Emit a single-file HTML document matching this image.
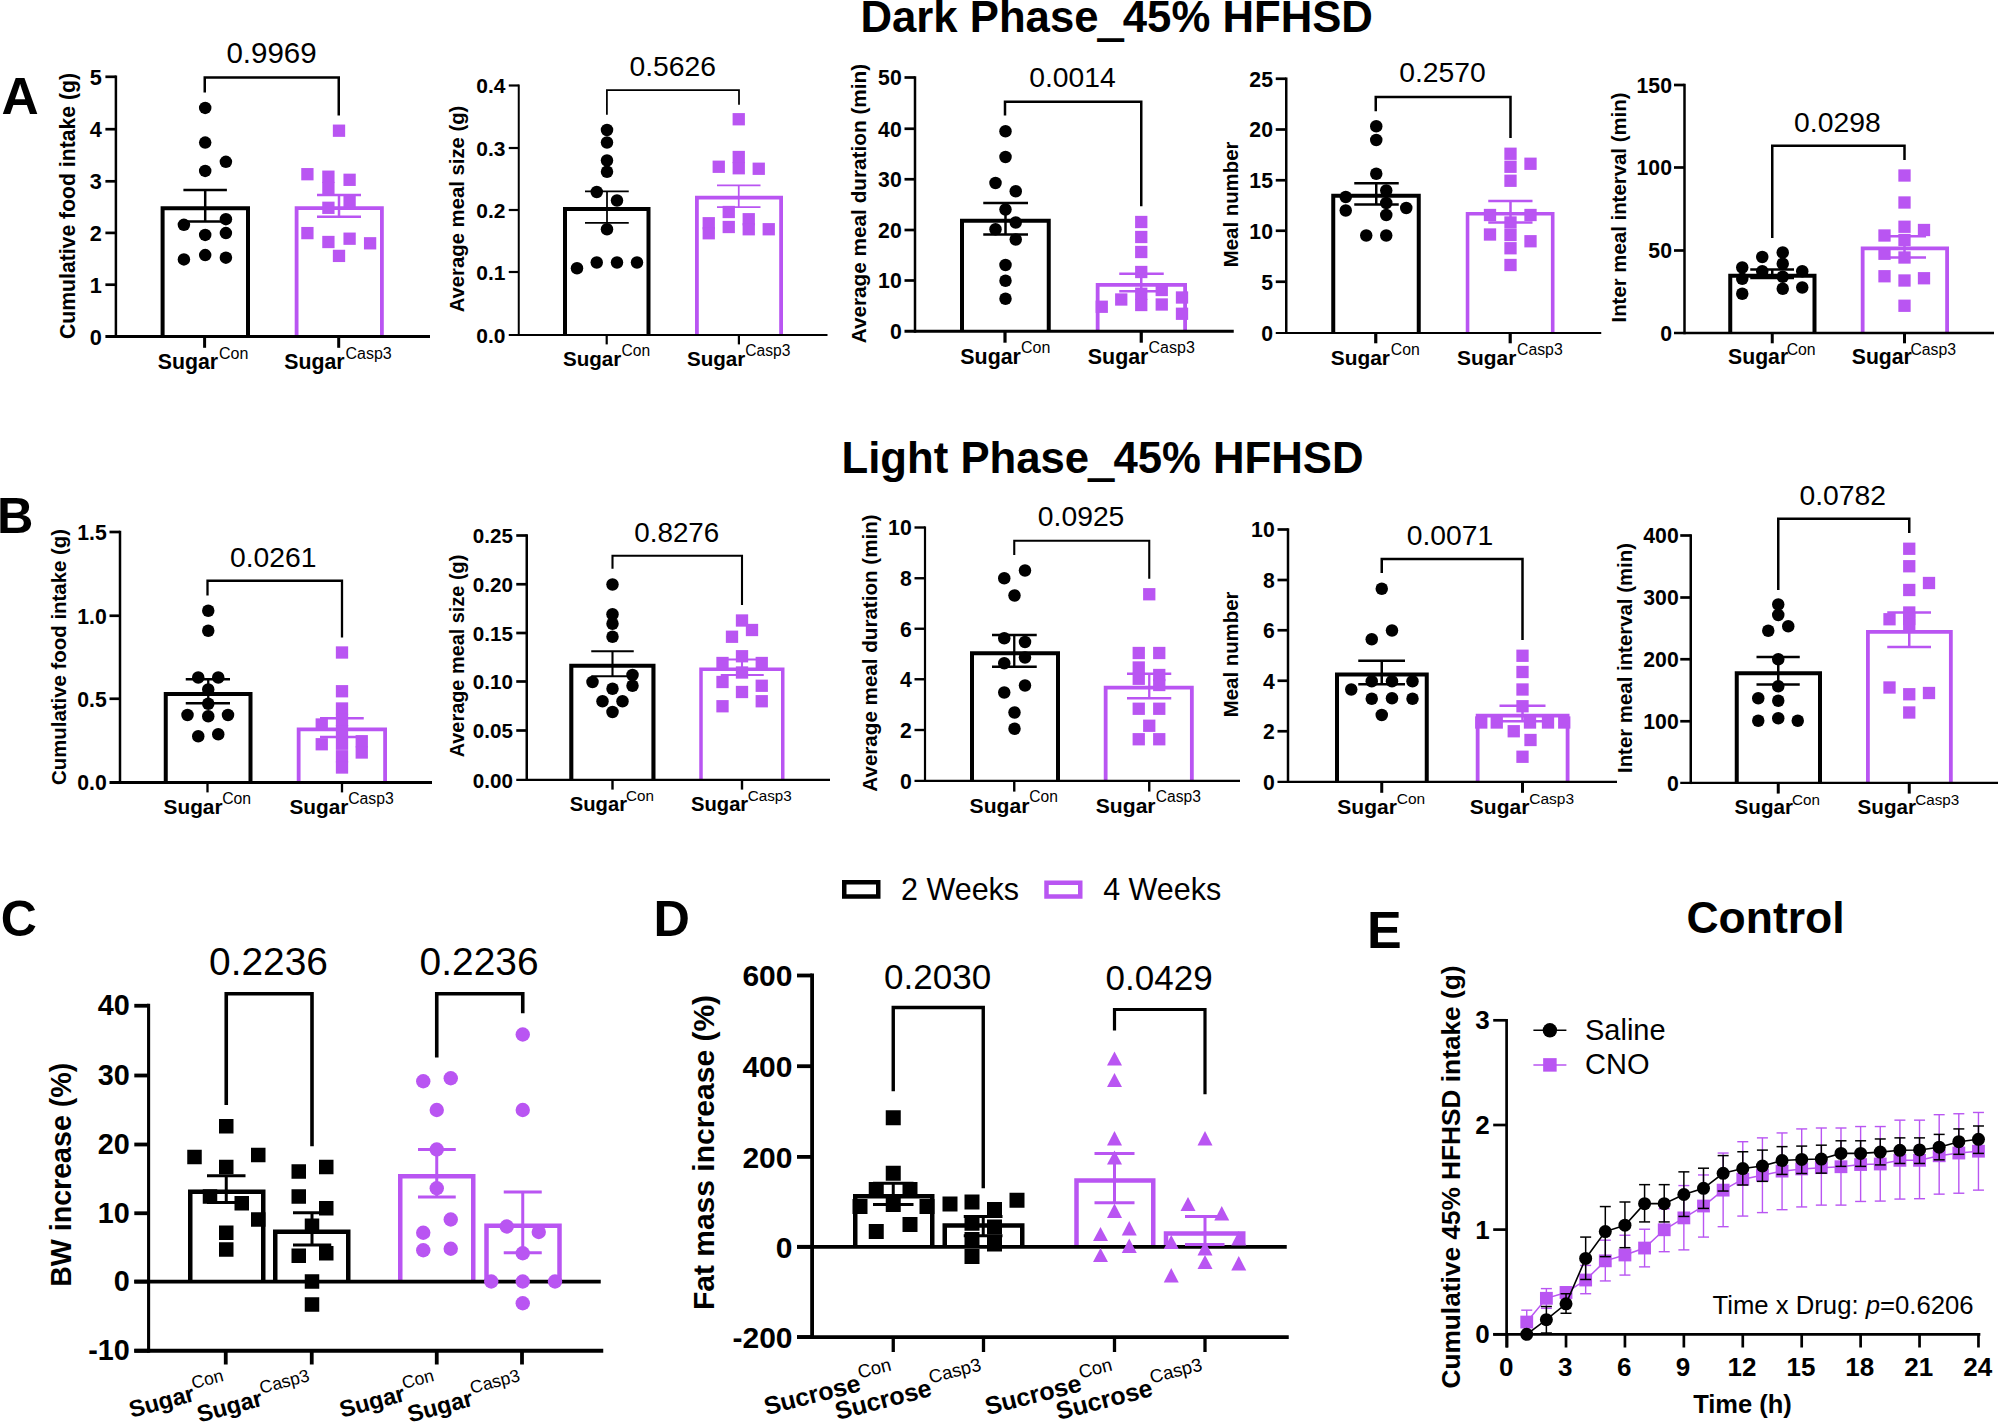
<!DOCTYPE html>
<html><head><meta charset="utf-8"><title>Figure</title>
<style>
html,body{margin:0;padding:0;background:#fff;}
svg{display:block;font-family:"Liberation Sans",Arial,Helvetica,sans-serif;}
</style></head>
<body>
<svg width="1998" height="1423" viewBox="0 0 1998 1423">
<rect x="0" y="0" width="1998" height="1423" fill="#ffffff"/>
<path d="M162.6 336.6V208.3H248V336.6" stroke="#000000" stroke-width="4" fill="none" stroke-linejoin="miter"/>
<path d="M296.6 336.6V208.2H381.9V336.6" stroke="#b955f2" stroke-width="3.8" fill="none" stroke-linejoin="miter"/>
<line x1="205.2" y1="190.1" x2="205.2" y2="221.5" stroke="#000000" stroke-width="2.5" stroke-linecap="butt"/>
<line x1="183.4" y1="190.1" x2="226.9" y2="190.1" stroke="#000000" stroke-width="2.5" stroke-linecap="butt"/>
<line x1="183.4" y1="221.5" x2="226.9" y2="221.5" stroke="#000000" stroke-width="2.5" stroke-linecap="butt"/>
<line x1="339" y1="194.9" x2="339" y2="216.7" stroke="#b955f2" stroke-width="2.5" stroke-linecap="butt"/>
<line x1="317" y1="194.9" x2="361" y2="194.9" stroke="#b955f2" stroke-width="2.5" stroke-linecap="butt"/>
<line x1="317" y1="216.7" x2="361" y2="216.7" stroke="#b955f2" stroke-width="2.5" stroke-linecap="butt"/>
<circle cx="205.2" cy="107.9" r="6.25" fill="#000000"/>
<circle cx="205.2" cy="142.6" r="6.25" fill="#000000"/>
<circle cx="225.9" cy="161.8" r="6.25" fill="#000000"/>
<circle cx="205.2" cy="170.9" r="6.25" fill="#000000"/>
<circle cx="183.9" cy="224.8" r="6.25" fill="#000000"/>
<circle cx="225.9" cy="219.2" r="6.25" fill="#000000"/>
<circle cx="205.2" cy="234.9" r="6.25" fill="#000000"/>
<circle cx="225.9" cy="233.1" r="6.25" fill="#000000"/>
<circle cx="183.9" cy="259.4" r="6.25" fill="#000000"/>
<circle cx="205.2" cy="255.1" r="6.25" fill="#000000"/>
<circle cx="225.9" cy="257.7" r="6.25" fill="#000000"/>
<rect x="332.85" y="124.55" width="12.3" height="12.3" fill="#b955f2"/>
<rect x="301.25" y="168.05" width="12.3" height="12.3" fill="#b955f2"/>
<rect x="322.25" y="170.55" width="12.3" height="12.3" fill="#b955f2"/>
<rect x="322.25" y="181.95" width="12.3" height="12.3" fill="#b955f2"/>
<rect x="343.45" y="173.65" width="12.3" height="12.3" fill="#b955f2"/>
<rect x="343.45" y="195.15" width="12.3" height="12.3" fill="#b955f2"/>
<rect x="322.25" y="201.65" width="12.3" height="12.3" fill="#b955f2"/>
<rect x="301.25" y="226.95" width="12.3" height="12.3" fill="#b955f2"/>
<rect x="322.25" y="235.85" width="12.3" height="12.3" fill="#b955f2"/>
<rect x="343.45" y="232.55" width="12.3" height="12.3" fill="#b955f2"/>
<rect x="363.95" y="237.15" width="12.3" height="12.3" fill="#b955f2"/>
<rect x="332.85" y="249.75" width="12.3" height="12.3" fill="#b955f2"/>
<line x1="115.9" y1="75.55" x2="115.9" y2="338.1" stroke="#000000" stroke-width="2.5" stroke-linecap="butt"/>
<line x1="105.4" y1="336.6" x2="430" y2="336.6" stroke="#000000" stroke-width="3" stroke-linecap="butt"/>
<line x1="105.4" y1="76.8" x2="115.9" y2="76.8" stroke="#000000" stroke-width="2.7" stroke-linecap="butt"/>
<text x="101.7" y="84.8" text-anchor="end" font-size="21.7" font-weight="bold" fill="#000000">5</text>
<line x1="105.4" y1="129.2" x2="115.9" y2="129.2" stroke="#000000" stroke-width="2.7" stroke-linecap="butt"/>
<text x="101.7" y="137.19" text-anchor="end" font-size="21.7" font-weight="bold" fill="#000000">4</text>
<line x1="105.4" y1="181.3" x2="115.9" y2="181.3" stroke="#000000" stroke-width="2.7" stroke-linecap="butt"/>
<text x="101.7" y="189.3" text-anchor="end" font-size="21.7" font-weight="bold" fill="#000000">3</text>
<line x1="105.4" y1="232.9" x2="115.9" y2="232.9" stroke="#000000" stroke-width="2.7" stroke-linecap="butt"/>
<text x="101.7" y="240.9" text-anchor="end" font-size="21.7" font-weight="bold" fill="#000000">2</text>
<line x1="105.4" y1="284.7" x2="115.9" y2="284.7" stroke="#000000" stroke-width="2.7" stroke-linecap="butt"/>
<text x="101.7" y="292.69" text-anchor="end" font-size="21.7" font-weight="bold" fill="#000000">1</text>
<text x="101.7" y="344.6" text-anchor="end" font-size="21.7" font-weight="bold" fill="#000000">0</text>
<line x1="204.6" y1="336.6" x2="204.6" y2="347.8" stroke="#000000" stroke-width="3" stroke-linecap="butt"/>
<line x1="338.7" y1="336.6" x2="338.7" y2="347.8" stroke="#000000" stroke-width="3" stroke-linecap="butt"/>
<path d="M204.75 92.5V77.5H338.75V115.6" stroke="#000000" stroke-width="2.5" fill="none" stroke-linejoin="miter"/>
<text x="271.5" y="62.5" text-anchor="middle" font-size="29.5" fill="#000000">0.9969</text>
<text x="157.8" y="369" text-anchor="start" font-size="21.3" font-weight="bold" fill="#000000">Sugar</text>
<text x="219" y="359.4" text-anchor="start" font-size="16" fill="#000000">Con</text>
<text x="284.3" y="369" text-anchor="start" font-size="21.3" font-weight="bold" fill="#000000">Sugar</text>
<text x="345.5" y="359.4" text-anchor="start" font-size="16" fill="#000000">Casp3</text>
<text transform="translate(75.4,206) rotate(-90)" text-anchor="middle" font-size="21.2" font-weight="bold" fill="#000000">Cumulative food intake (g)</text>
<path d="M565 334.9V209H648.5V334.9" stroke="#000000" stroke-width="4" fill="none" stroke-linejoin="miter"/>
<path d="M696.9 334.9V197.65H781.1V334.9" stroke="#b955f2" stroke-width="3.8" fill="none" stroke-linejoin="miter"/>
<line x1="607" y1="191.25" x2="607" y2="222.75" stroke="#000000" stroke-width="1.75" stroke-linecap="butt"/>
<line x1="585" y1="191.25" x2="628.75" y2="191.25" stroke="#000000" stroke-width="1.75" stroke-linecap="butt"/>
<line x1="585" y1="222.75" x2="628.75" y2="222.75" stroke="#000000" stroke-width="1.75" stroke-linecap="butt"/>
<line x1="738.75" y1="185.25" x2="738.75" y2="207" stroke="#b955f2" stroke-width="1.75" stroke-linecap="butt"/>
<line x1="717" y1="185.25" x2="760.5" y2="185.25" stroke="#b955f2" stroke-width="1.75" stroke-linecap="butt"/>
<line x1="717" y1="207" x2="760.5" y2="207" stroke="#b955f2" stroke-width="1.75" stroke-linecap="butt"/>
<circle cx="607" cy="130" r="6.25" fill="#000000"/>
<circle cx="607" cy="142.5" r="6.25" fill="#000000"/>
<circle cx="607" cy="160.5" r="6.25" fill="#000000"/>
<circle cx="607" cy="171.75" r="6.25" fill="#000000"/>
<circle cx="596.75" cy="192" r="6.25" fill="#000000"/>
<circle cx="617" cy="200.5" r="6.25" fill="#000000"/>
<circle cx="607" cy="229.25" r="6.25" fill="#000000"/>
<circle cx="577" cy="268.25" r="6.25" fill="#000000"/>
<circle cx="596.75" cy="262.5" r="6.25" fill="#000000"/>
<circle cx="617" cy="262.5" r="6.25" fill="#000000"/>
<circle cx="637" cy="262.5" r="6.25" fill="#000000"/>
<rect x="732.6" y="113.1" width="12.3" height="12.3" fill="#b955f2"/>
<rect x="712.6" y="160.6" width="12.3" height="12.3" fill="#b955f2"/>
<rect x="732.6" y="150.85" width="12.3" height="12.3" fill="#b955f2"/>
<rect x="732.6" y="162.1" width="12.3" height="12.3" fill="#b955f2"/>
<rect x="752.6" y="162.6" width="12.3" height="12.3" fill="#b955f2"/>
<rect x="722.6" y="205.85" width="12.3" height="12.3" fill="#b955f2"/>
<rect x="742.6" y="213.1" width="12.3" height="12.3" fill="#b955f2"/>
<rect x="742.6" y="223.1" width="12.3" height="12.3" fill="#b955f2"/>
<rect x="702.6" y="217.1" width="12.3" height="12.3" fill="#b955f2"/>
<rect x="702.6" y="227.1" width="12.3" height="12.3" fill="#b955f2"/>
<rect x="722.6" y="220.85" width="12.3" height="12.3" fill="#b955f2"/>
<rect x="762.6" y="223.1" width="12.3" height="12.3" fill="#b955f2"/>
<line x1="518.75" y1="84.5" x2="518.75" y2="335.9" stroke="#000000" stroke-width="2" stroke-linecap="butt"/>
<line x1="508.75" y1="334.9" x2="827.5" y2="334.9" stroke="#000000" stroke-width="2" stroke-linecap="butt"/>
<line x1="508.75" y1="85.5" x2="518.75" y2="85.5" stroke="#000000" stroke-width="2.2" stroke-linecap="butt"/>
<text x="505.45" y="93.25" text-anchor="end" font-size="21" font-weight="bold" fill="#000000">0.4</text>
<line x1="508.75" y1="148" x2="518.75" y2="148" stroke="#000000" stroke-width="2.2" stroke-linecap="butt"/>
<text x="505.45" y="155.75" text-anchor="end" font-size="21" font-weight="bold" fill="#000000">0.3</text>
<line x1="508.75" y1="210" x2="518.75" y2="210" stroke="#000000" stroke-width="2.2" stroke-linecap="butt"/>
<text x="505.45" y="217.75" text-anchor="end" font-size="21" font-weight="bold" fill="#000000">0.2</text>
<line x1="508.75" y1="272" x2="518.75" y2="272" stroke="#000000" stroke-width="2.2" stroke-linecap="butt"/>
<text x="505.45" y="279.75" text-anchor="end" font-size="21" font-weight="bold" fill="#000000">0.1</text>
<text x="505.45" y="342.65" text-anchor="end" font-size="21" font-weight="bold" fill="#000000">0.0</text>
<line x1="606.7" y1="334.9" x2="606.7" y2="344.4" stroke="#000000" stroke-width="2.2" stroke-linecap="butt"/>
<line x1="738.9" y1="334.9" x2="738.9" y2="344.4" stroke="#000000" stroke-width="2.2" stroke-linecap="butt"/>
<path d="M606.9 114.75V90H739V104.75" stroke="#000000" stroke-width="1.75" fill="none" stroke-linejoin="miter"/>
<text x="672.8" y="75.7" text-anchor="middle" font-size="28.3" fill="#000000">0.5626</text>
<text x="562.9" y="366.4" text-anchor="start" font-size="20.6" font-weight="bold" fill="#000000">Sugar</text>
<text x="621.5" y="355.9" text-anchor="start" font-size="15.6" fill="#000000">Con</text>
<text x="686.9" y="366.4" text-anchor="start" font-size="20.6" font-weight="bold" fill="#000000">Sugar</text>
<text x="745.25" y="355.9" text-anchor="start" font-size="15.6" fill="#000000">Casp3</text>
<text transform="translate(464,209) rotate(-90)" text-anchor="middle" font-size="20.3" font-weight="bold" fill="#000000">Average meal size (g)</text>
<path d="M962 331.25V220.75H1048.75V331.25" stroke="#000000" stroke-width="4" fill="none" stroke-linejoin="miter"/>
<path d="M1097.65 331.25V284.9H1185.1V331.25" stroke="#b955f2" stroke-width="3.8" fill="none" stroke-linejoin="miter"/>
<line x1="1005.5" y1="203" x2="1005.5" y2="234.5" stroke="#000000" stroke-width="2.5" stroke-linecap="butt"/>
<line x1="983.25" y1="203" x2="1028" y2="203" stroke="#000000" stroke-width="2.5" stroke-linecap="butt"/>
<line x1="983.25" y1="234.5" x2="1028" y2="234.5" stroke="#000000" stroke-width="2.5" stroke-linecap="butt"/>
<line x1="1141.25" y1="273.75" x2="1141.25" y2="291.25" stroke="#b955f2" stroke-width="2.5" stroke-linecap="butt"/>
<line x1="1119.25" y1="273.75" x2="1163.75" y2="273.75" stroke="#b955f2" stroke-width="2.5" stroke-linecap="butt"/>
<line x1="1119.25" y1="291.25" x2="1163.75" y2="291.25" stroke="#b955f2" stroke-width="2.5" stroke-linecap="butt"/>
<circle cx="1005.5" cy="131.25" r="6.25" fill="#000000"/>
<circle cx="1005.5" cy="157" r="6.25" fill="#000000"/>
<circle cx="995.5" cy="183" r="6.25" fill="#000000"/>
<circle cx="1015.75" cy="191.25" r="6.25" fill="#000000"/>
<circle cx="1005.5" cy="209.5" r="6.25" fill="#000000"/>
<circle cx="1015.75" cy="222.5" r="6.25" fill="#000000"/>
<circle cx="995.5" cy="229.25" r="6.25" fill="#000000"/>
<circle cx="1015.75" cy="239.5" r="6.25" fill="#000000"/>
<circle cx="1005.5" cy="265" r="6.25" fill="#000000"/>
<circle cx="1005.5" cy="280.75" r="6.25" fill="#000000"/>
<circle cx="1005.5" cy="298.75" r="6.25" fill="#000000"/>
<rect x="1135.1" y="215.85" width="12.3" height="12.3" fill="#b955f2"/>
<rect x="1135.1" y="230.85" width="12.3" height="12.3" fill="#b955f2"/>
<rect x="1135.1" y="245.85" width="12.3" height="12.3" fill="#b955f2"/>
<rect x="1135.1" y="265.85" width="12.3" height="12.3" fill="#b955f2"/>
<rect x="1135.1" y="287.6" width="12.3" height="12.3" fill="#b955f2"/>
<rect x="1135.1" y="298.85" width="12.3" height="12.3" fill="#b955f2"/>
<rect x="1155.6" y="283.85" width="12.3" height="12.3" fill="#b955f2"/>
<rect x="1115.1" y="293.35" width="12.3" height="12.3" fill="#b955f2"/>
<rect x="1155.6" y="298.35" width="12.3" height="12.3" fill="#b955f2"/>
<rect x="1175.85" y="291.35" width="12.3" height="12.3" fill="#b955f2"/>
<rect x="1095.6" y="300.6" width="12.3" height="12.3" fill="#b955f2"/>
<rect x="1175.85" y="307.6" width="12.3" height="12.3" fill="#b955f2"/>
<line x1="915" y1="76.25" x2="915" y2="332.75" stroke="#000000" stroke-width="2.5" stroke-linecap="butt"/>
<line x1="904.5" y1="331.25" x2="1233.75" y2="331.25" stroke="#000000" stroke-width="3" stroke-linecap="butt"/>
<line x1="904.5" y1="77.5" x2="915" y2="77.5" stroke="#000000" stroke-width="2.7" stroke-linecap="butt"/>
<text x="901.7" y="85.32" text-anchor="end" font-size="21.2" font-weight="bold" fill="#000000">50</text>
<line x1="904.5" y1="128.75" x2="915" y2="128.75" stroke="#000000" stroke-width="2.7" stroke-linecap="butt"/>
<text x="901.7" y="136.57" text-anchor="end" font-size="21.2" font-weight="bold" fill="#000000">40</text>
<line x1="904.5" y1="179.25" x2="915" y2="179.25" stroke="#000000" stroke-width="2.7" stroke-linecap="butt"/>
<text x="901.7" y="187.07" text-anchor="end" font-size="21.2" font-weight="bold" fill="#000000">30</text>
<line x1="904.5" y1="230" x2="915" y2="230" stroke="#000000" stroke-width="2.7" stroke-linecap="butt"/>
<text x="901.7" y="237.82" text-anchor="end" font-size="21.2" font-weight="bold" fill="#000000">20</text>
<line x1="904.5" y1="280.5" x2="915" y2="280.5" stroke="#000000" stroke-width="2.7" stroke-linecap="butt"/>
<text x="901.7" y="288.32" text-anchor="end" font-size="21.2" font-weight="bold" fill="#000000">10</text>
<text x="901.7" y="339.07" text-anchor="end" font-size="21.2" font-weight="bold" fill="#000000">0</text>
<line x1="1005" y1="331.25" x2="1005" y2="342.7" stroke="#000000" stroke-width="3.2" stroke-linecap="butt"/>
<line x1="1141.25" y1="331.25" x2="1141.25" y2="342.7" stroke="#000000" stroke-width="3.2" stroke-linecap="butt"/>
<path d="M1005 115.5V101.75H1141.25V206.25" stroke="#000000" stroke-width="2.5" fill="none" stroke-linejoin="miter"/>
<text x="1072.5" y="86.5" text-anchor="middle" font-size="28.3" fill="#000000">0.0014</text>
<text x="960.3" y="363.75" text-anchor="start" font-size="21.4" font-weight="bold" fill="#000000">Sugar</text>
<text x="1021.05" y="353.45" text-anchor="start" font-size="16" fill="#000000">Con</text>
<text x="1087.8" y="363.75" text-anchor="start" font-size="21.4" font-weight="bold" fill="#000000">Sugar</text>
<text x="1148.55" y="353.45" text-anchor="start" font-size="16" fill="#000000">Casp3</text>
<text transform="translate(865.7,203.6) rotate(-90)" text-anchor="middle" font-size="20.75" font-weight="bold" fill="#000000">Average meal duration (min)</text>
<path d="M1333.25 333V195.75H1418.75V333" stroke="#000000" stroke-width="4" fill="none" stroke-linejoin="miter"/>
<path d="M1467.55 333V213.8H1552.7V333" stroke="#b955f2" stroke-width="3.6" fill="none" stroke-linejoin="miter"/>
<line x1="1376.25" y1="183.25" x2="1376.25" y2="204.5" stroke="#000000" stroke-width="2.5" stroke-linecap="butt"/>
<line x1="1354.25" y1="183.25" x2="1398.75" y2="183.25" stroke="#000000" stroke-width="2.5" stroke-linecap="butt"/>
<line x1="1354.25" y1="204.5" x2="1398.75" y2="204.5" stroke="#000000" stroke-width="2.5" stroke-linecap="butt"/>
<line x1="1510.5" y1="201" x2="1510.5" y2="222.5" stroke="#b955f2" stroke-width="2.5" stroke-linecap="butt"/>
<line x1="1488.25" y1="201" x2="1532.5" y2="201" stroke="#b955f2" stroke-width="2.5" stroke-linecap="butt"/>
<line x1="1488.25" y1="222.5" x2="1532.5" y2="222.5" stroke="#b955f2" stroke-width="2.5" stroke-linecap="butt"/>
<circle cx="1376.25" cy="126.25" r="6.25" fill="#000000"/>
<circle cx="1376.25" cy="140" r="6.25" fill="#000000"/>
<circle cx="1376.25" cy="173.75" r="6.25" fill="#000000"/>
<circle cx="1386.25" cy="190.5" r="6.25" fill="#000000"/>
<circle cx="1345.75" cy="197" r="6.25" fill="#000000"/>
<circle cx="1386.25" cy="203" r="6.25" fill="#000000"/>
<circle cx="1345.75" cy="210.5" r="6.25" fill="#000000"/>
<circle cx="1406.25" cy="208" r="6.25" fill="#000000"/>
<circle cx="1386.25" cy="215" r="6.25" fill="#000000"/>
<circle cx="1366.25" cy="235.5" r="6.25" fill="#000000"/>
<circle cx="1386.25" cy="235.5" r="6.25" fill="#000000"/>
<rect x="1504.35" y="147.6" width="12.3" height="12.3" fill="#b955f2"/>
<rect x="1504.35" y="160.6" width="12.3" height="12.3" fill="#b955f2"/>
<rect x="1524.35" y="157.6" width="12.3" height="12.3" fill="#b955f2"/>
<rect x="1504.35" y="174.6" width="12.3" height="12.3" fill="#b955f2"/>
<rect x="1483.85" y="208.85" width="12.3" height="12.3" fill="#b955f2"/>
<rect x="1524.35" y="208.85" width="12.3" height="12.3" fill="#b955f2"/>
<rect x="1504.35" y="216.35" width="12.3" height="12.3" fill="#b955f2"/>
<rect x="1483.85" y="228.35" width="12.3" height="12.3" fill="#b955f2"/>
<rect x="1504.35" y="228.85" width="12.3" height="12.3" fill="#b955f2"/>
<rect x="1524.35" y="235.1" width="12.3" height="12.3" fill="#b955f2"/>
<rect x="1504.35" y="242.1" width="12.3" height="12.3" fill="#b955f2"/>
<rect x="1504.35" y="258.85" width="12.3" height="12.3" fill="#b955f2"/>
<line x1="1286.25" y1="77.5" x2="1286.25" y2="334.1" stroke="#000000" stroke-width="2.5" stroke-linecap="butt"/>
<line x1="1275.75" y1="333" x2="1601.25" y2="333" stroke="#000000" stroke-width="2.2" stroke-linecap="butt"/>
<line x1="1275.75" y1="78.75" x2="1286.25" y2="78.75" stroke="#000000" stroke-width="2.7" stroke-linecap="butt"/>
<text x="1272.95" y="86.57" text-anchor="end" font-size="21.2" font-weight="bold" fill="#000000">25</text>
<line x1="1275.75" y1="129.5" x2="1286.25" y2="129.5" stroke="#000000" stroke-width="2.7" stroke-linecap="butt"/>
<text x="1272.95" y="137.32" text-anchor="end" font-size="21.2" font-weight="bold" fill="#000000">20</text>
<line x1="1275.75" y1="180.25" x2="1286.25" y2="180.25" stroke="#000000" stroke-width="2.7" stroke-linecap="butt"/>
<text x="1272.95" y="188.07" text-anchor="end" font-size="21.2" font-weight="bold" fill="#000000">15</text>
<line x1="1275.75" y1="230.75" x2="1286.25" y2="230.75" stroke="#000000" stroke-width="2.7" stroke-linecap="butt"/>
<text x="1272.95" y="238.57" text-anchor="end" font-size="21.2" font-weight="bold" fill="#000000">10</text>
<line x1="1275.75" y1="281.75" x2="1286.25" y2="281.75" stroke="#000000" stroke-width="2.7" stroke-linecap="butt"/>
<text x="1272.95" y="289.57" text-anchor="end" font-size="21.2" font-weight="bold" fill="#000000">5</text>
<text x="1272.95" y="340.82" text-anchor="end" font-size="21.2" font-weight="bold" fill="#000000">0</text>
<line x1="1375.75" y1="333" x2="1375.75" y2="343.3" stroke="#000000" stroke-width="3.2" stroke-linecap="butt"/>
<line x1="1510.2" y1="333" x2="1510.2" y2="343.3" stroke="#000000" stroke-width="3.2" stroke-linecap="butt"/>
<path d="M1375.75 111.25V97H1510.5V138" stroke="#000000" stroke-width="2.5" fill="none" stroke-linejoin="miter"/>
<text x="1442.5" y="82.2" text-anchor="middle" font-size="28.3" fill="#000000">0.2570</text>
<text x="1330.8" y="365" text-anchor="start" font-size="20.9" font-weight="bold" fill="#000000">Sugar</text>
<text x="1390.75" y="355" text-anchor="start" font-size="15.8" fill="#000000">Con</text>
<text x="1457.1" y="365" text-anchor="start" font-size="20.9" font-weight="bold" fill="#000000">Sugar</text>
<text x="1517" y="355" text-anchor="start" font-size="15.8" fill="#000000">Casp3</text>
<text transform="translate(1237.5,204.4) rotate(-90)" text-anchor="middle" font-size="20.4" font-weight="bold" fill="#000000">Meal number</text>
<path d="M1730.25 333V275.75H1814.5V333" stroke="#000000" stroke-width="4" fill="none" stroke-linejoin="miter"/>
<path d="M1862.65 333V248.4H1947.1V333" stroke="#b955f2" stroke-width="3.8" fill="none" stroke-linejoin="miter"/>
<line x1="1772.25" y1="269.5" x2="1772.25" y2="278" stroke="#000000" stroke-width="2.5" stroke-linecap="butt"/>
<line x1="1750.25" y1="269.5" x2="1794" y2="269.5" stroke="#000000" stroke-width="2.5" stroke-linecap="butt"/>
<line x1="1750.25" y1="278" x2="1794" y2="278" stroke="#000000" stroke-width="2.5" stroke-linecap="butt"/>
<line x1="1904.5" y1="236.25" x2="1904.5" y2="257.5" stroke="#b955f2" stroke-width="2.5" stroke-linecap="butt"/>
<line x1="1882.75" y1="236.25" x2="1926" y2="236.25" stroke="#b955f2" stroke-width="2.5" stroke-linecap="butt"/>
<line x1="1882.75" y1="257.5" x2="1926" y2="257.5" stroke="#b955f2" stroke-width="2.5" stroke-linecap="butt"/>
<circle cx="1782.75" cy="252.5" r="6.25" fill="#000000"/>
<circle cx="1762.25" cy="257" r="6.25" fill="#000000"/>
<circle cx="1782.75" cy="263.75" r="6.25" fill="#000000"/>
<circle cx="1742.25" cy="267.5" r="6.25" fill="#000000"/>
<circle cx="1762.25" cy="271.25" r="6.25" fill="#000000"/>
<circle cx="1802.25" cy="271.25" r="6.25" fill="#000000"/>
<circle cx="1742.25" cy="278.75" r="6.25" fill="#000000"/>
<circle cx="1782.75" cy="276.75" r="6.25" fill="#000000"/>
<circle cx="1802.25" cy="287.5" r="6.25" fill="#000000"/>
<circle cx="1782.75" cy="288.75" r="6.25" fill="#000000"/>
<circle cx="1742.25" cy="293.75" r="6.25" fill="#000000"/>
<rect x="1898.35" y="169.35" width="12.3" height="12.3" fill="#b955f2"/>
<rect x="1898.35" y="196.35" width="12.3" height="12.3" fill="#b955f2"/>
<rect x="1898.35" y="220.6" width="12.3" height="12.3" fill="#b955f2"/>
<rect x="1917.85" y="223.85" width="12.3" height="12.3" fill="#b955f2"/>
<rect x="1878.35" y="229.35" width="12.3" height="12.3" fill="#b955f2"/>
<rect x="1898.35" y="233.85" width="12.3" height="12.3" fill="#b955f2"/>
<rect x="1878.35" y="247.6" width="12.3" height="12.3" fill="#b955f2"/>
<rect x="1898.35" y="251.35" width="12.3" height="12.3" fill="#b955f2"/>
<rect x="1878.35" y="270.1" width="12.3" height="12.3" fill="#b955f2"/>
<rect x="1917.85" y="272.1" width="12.3" height="12.3" fill="#b955f2"/>
<rect x="1898.35" y="274.35" width="12.3" height="12.3" fill="#b955f2"/>
<rect x="1898.35" y="299.6" width="12.3" height="12.3" fill="#b955f2"/>
<line x1="1684.5" y1="83.75" x2="1684.5" y2="334.25" stroke="#000000" stroke-width="2.5" stroke-linecap="butt"/>
<line x1="1674" y1="333" x2="1994" y2="333" stroke="#000000" stroke-width="2.5" stroke-linecap="butt"/>
<line x1="1674" y1="85" x2="1684.5" y2="85" stroke="#000000" stroke-width="2.7" stroke-linecap="butt"/>
<text x="1671.95" y="92.82" text-anchor="end" font-size="21.2" font-weight="bold" fill="#000000">150</text>
<line x1="1674" y1="167.5" x2="1684.5" y2="167.5" stroke="#000000" stroke-width="2.7" stroke-linecap="butt"/>
<text x="1671.95" y="175.32" text-anchor="end" font-size="21.2" font-weight="bold" fill="#000000">100</text>
<line x1="1674" y1="250.5" x2="1684.5" y2="250.5" stroke="#000000" stroke-width="2.7" stroke-linecap="butt"/>
<text x="1671.95" y="258.32" text-anchor="end" font-size="21.2" font-weight="bold" fill="#000000">50</text>
<text x="1671.95" y="340.82" text-anchor="end" font-size="21.2" font-weight="bold" fill="#000000">0</text>
<line x1="1772.25" y1="333" x2="1772.25" y2="343.3" stroke="#000000" stroke-width="3" stroke-linecap="butt"/>
<line x1="1904.5" y1="333" x2="1904.5" y2="343.3" stroke="#000000" stroke-width="3" stroke-linecap="butt"/>
<path d="M1772.25 238V145.75H1904.5V160" stroke="#000000" stroke-width="2.5" fill="none" stroke-linejoin="miter"/>
<text x="1837.4" y="131.5" text-anchor="middle" font-size="28.3" fill="#000000">0.0298</text>
<text x="1728.1" y="363.95" text-anchor="start" font-size="21.2" font-weight="bold" fill="#000000">Sugar</text>
<text x="1786.65" y="354.85" text-anchor="start" font-size="15.8" fill="#000000">Con</text>
<text x="1851.8" y="363.95" text-anchor="start" font-size="21.2" font-weight="bold" fill="#000000">Sugar</text>
<text x="1910.4" y="354.85" text-anchor="start" font-size="15.8" fill="#000000">Casp3</text>
<text transform="translate(1625.5,207.5) rotate(-90)" text-anchor="middle" font-size="20.4" font-weight="bold" fill="#000000">Inter meal interval (min)</text>
<path d="M165.75 782.5V694H250.5V782.5" stroke="#000000" stroke-width="4" fill="none" stroke-linejoin="miter"/>
<path d="M298.65 782.5V729.4H385.1V782.5" stroke="#b955f2" stroke-width="3.8" fill="none" stroke-linejoin="miter"/>
<line x1="208.25" y1="679.25" x2="208.25" y2="703.25" stroke="#000000" stroke-width="2.3" stroke-linecap="butt"/>
<line x1="185.75" y1="679.25" x2="230" y2="679.25" stroke="#000000" stroke-width="2.3" stroke-linecap="butt"/>
<line x1="185.75" y1="703.25" x2="230" y2="703.25" stroke="#000000" stroke-width="2.3" stroke-linecap="butt"/>
<line x1="342" y1="718.25" x2="342" y2="737" stroke="#b955f2" stroke-width="2.3" stroke-linecap="butt"/>
<line x1="320" y1="718.25" x2="363.75" y2="718.25" stroke="#b955f2" stroke-width="2.3" stroke-linecap="butt"/>
<line x1="320" y1="737" x2="363.75" y2="737" stroke="#b955f2" stroke-width="2.3" stroke-linecap="butt"/>
<circle cx="208.25" cy="610.75" r="6.25" fill="#000000"/>
<circle cx="208.25" cy="630.75" r="6.25" fill="#000000"/>
<circle cx="198.25" cy="677.5" r="6.25" fill="#000000"/>
<circle cx="218.25" cy="677.5" r="6.25" fill="#000000"/>
<circle cx="208.25" cy="689.5" r="6.25" fill="#000000"/>
<circle cx="208.25" cy="703.75" r="6.25" fill="#000000"/>
<circle cx="187.5" cy="715" r="6.25" fill="#000000"/>
<circle cx="208.25" cy="716.25" r="6.25" fill="#000000"/>
<circle cx="228" cy="715" r="6.25" fill="#000000"/>
<circle cx="198.25" cy="736.25" r="6.25" fill="#000000"/>
<circle cx="218.25" cy="734.25" r="6.25" fill="#000000"/>
<rect x="335.85" y="646.35" width="12.3" height="12.3" fill="#b955f2"/>
<rect x="335.85" y="685.1" width="12.3" height="12.3" fill="#b955f2"/>
<rect x="335.85" y="702.35" width="12.3" height="12.3" fill="#b955f2"/>
<rect x="335.85" y="713.85" width="12.3" height="12.3" fill="#b955f2"/>
<rect x="335.85" y="725.1" width="12.3" height="12.3" fill="#b955f2"/>
<rect x="335.85" y="737.6" width="12.3" height="12.3" fill="#b955f2"/>
<rect x="335.85" y="750.1" width="12.3" height="12.3" fill="#b955f2"/>
<rect x="335.85" y="761.35" width="12.3" height="12.3" fill="#b955f2"/>
<rect x="315.6" y="718.35" width="12.3" height="12.3" fill="#b955f2"/>
<rect x="315.6" y="738.1" width="12.3" height="12.3" fill="#b955f2"/>
<rect x="355.6" y="735.1" width="12.3" height="12.3" fill="#b955f2"/>
<rect x="355.6" y="746.35" width="12.3" height="12.3" fill="#b955f2"/>
<line x1="120" y1="530.75" x2="120" y2="783.95" stroke="#000000" stroke-width="2.5" stroke-linecap="butt"/>
<line x1="109.5" y1="782.5" x2="432" y2="782.5" stroke="#000000" stroke-width="2.9" stroke-linecap="butt"/>
<line x1="109.5" y1="532" x2="120" y2="532" stroke="#000000" stroke-width="2.7" stroke-linecap="butt"/>
<text x="106.7" y="539.82" text-anchor="end" font-size="21.2" font-weight="bold" fill="#000000">1.5</text>
<line x1="109.5" y1="615.75" x2="120" y2="615.75" stroke="#000000" stroke-width="2.7" stroke-linecap="butt"/>
<text x="106.7" y="623.57" text-anchor="end" font-size="21.2" font-weight="bold" fill="#000000">1.0</text>
<line x1="109.5" y1="698.75" x2="120" y2="698.75" stroke="#000000" stroke-width="2.7" stroke-linecap="butt"/>
<text x="106.7" y="706.57" text-anchor="end" font-size="21.2" font-weight="bold" fill="#000000">0.5</text>
<text x="106.7" y="790.32" text-anchor="end" font-size="21.2" font-weight="bold" fill="#000000">0.0</text>
<line x1="207.5" y1="782.5" x2="207.5" y2="792.4" stroke="#000000" stroke-width="2.3" stroke-linecap="butt"/>
<line x1="342" y1="782.5" x2="342" y2="792.4" stroke="#000000" stroke-width="2.3" stroke-linecap="butt"/>
<path d="M207.5 595.5V580.75H342V637.5" stroke="#000000" stroke-width="2.3" fill="none" stroke-linejoin="miter"/>
<text x="273.25" y="566.5" text-anchor="middle" font-size="28.3" fill="#000000">0.0261</text>
<text x="163.6" y="814.45" text-anchor="start" font-size="20.8" font-weight="bold" fill="#000000">Sugar</text>
<text x="222.15" y="804.45" text-anchor="start" font-size="15.8" fill="#000000">Con</text>
<text x="289.4" y="814.45" text-anchor="start" font-size="20.8" font-weight="bold" fill="#000000">Sugar</text>
<text x="348.15" y="804.45" text-anchor="start" font-size="15.8" fill="#000000">Casp3</text>
<text transform="translate(65.5,657) rotate(-90)" text-anchor="middle" font-size="20.4" font-weight="bold" fill="#000000">Cumulative food intake (g)</text>
<path d="M571.3 779.9V665.8H653.45V779.9" stroke="#000000" stroke-width="4.1" fill="none" stroke-linejoin="miter"/>
<path d="M701 779.9V669.25H782.75V779.9" stroke="#b955f2" stroke-width="3.5" fill="none" stroke-linejoin="miter"/>
<line x1="612.5" y1="651.25" x2="612.5" y2="676.25" stroke="#000000" stroke-width="2.1" stroke-linecap="butt"/>
<line x1="591.25" y1="651.25" x2="633.75" y2="651.25" stroke="#000000" stroke-width="2.1" stroke-linecap="butt"/>
<line x1="591.25" y1="676.25" x2="633.75" y2="676.25" stroke="#000000" stroke-width="2.1" stroke-linecap="butt"/>
<line x1="742" y1="659.5" x2="742" y2="675" stroke="#b955f2" stroke-width="2.1" stroke-linecap="butt"/>
<line x1="720.75" y1="659.5" x2="763.75" y2="659.5" stroke="#b955f2" stroke-width="2.1" stroke-linecap="butt"/>
<line x1="720.75" y1="675" x2="763.75" y2="675" stroke="#b955f2" stroke-width="2.1" stroke-linecap="butt"/>
<circle cx="612.5" cy="584.5" r="6.25" fill="#000000"/>
<circle cx="612.5" cy="614.25" r="6.25" fill="#000000"/>
<circle cx="612.5" cy="623.75" r="6.25" fill="#000000"/>
<circle cx="612.5" cy="636.75" r="6.25" fill="#000000"/>
<circle cx="632.5" cy="675" r="6.25" fill="#000000"/>
<circle cx="592.5" cy="682" r="6.25" fill="#000000"/>
<circle cx="632.5" cy="685.75" r="6.25" fill="#000000"/>
<circle cx="612.5" cy="688.75" r="6.25" fill="#000000"/>
<circle cx="602.5" cy="701.25" r="6.25" fill="#000000"/>
<circle cx="622.5" cy="701.25" r="6.25" fill="#000000"/>
<circle cx="612.5" cy="712" r="6.25" fill="#000000"/>
<rect x="735.85" y="614.35" width="12.3" height="12.3" fill="#b955f2"/>
<rect x="745.85" y="623.85" width="12.3" height="12.3" fill="#b955f2"/>
<rect x="725.85" y="630.6" width="12.3" height="12.3" fill="#b955f2"/>
<rect x="735.85" y="650.1" width="12.3" height="12.3" fill="#b955f2"/>
<rect x="716.35" y="656.85" width="12.3" height="12.3" fill="#b955f2"/>
<rect x="755.6" y="656.85" width="12.3" height="12.3" fill="#b955f2"/>
<rect x="735.85" y="666.35" width="12.3" height="12.3" fill="#b955f2"/>
<rect x="716.35" y="675.85" width="12.3" height="12.3" fill="#b955f2"/>
<rect x="755.6" y="679.6" width="12.3" height="12.3" fill="#b955f2"/>
<rect x="735.85" y="685.85" width="12.3" height="12.3" fill="#b955f2"/>
<rect x="755.6" y="695.1" width="12.3" height="12.3" fill="#b955f2"/>
<rect x="716.35" y="700.1" width="12.3" height="12.3" fill="#b955f2"/>
<line x1="526.75" y1="534.25" x2="526.75" y2="781" stroke="#000000" stroke-width="2.5" stroke-linecap="butt"/>
<line x1="516.25" y1="779.9" x2="830" y2="779.9" stroke="#000000" stroke-width="2.2" stroke-linecap="butt"/>
<line x1="516.25" y1="535.5" x2="526.75" y2="535.5" stroke="#000000" stroke-width="2.7" stroke-linecap="butt"/>
<text x="512.95" y="543.11" text-anchor="end" font-size="20.6" font-weight="bold" fill="#000000">0.25</text>
<line x1="516.25" y1="584.25" x2="526.75" y2="584.25" stroke="#000000" stroke-width="2.7" stroke-linecap="butt"/>
<text x="512.95" y="591.86" text-anchor="end" font-size="20.6" font-weight="bold" fill="#000000">0.20</text>
<line x1="516.25" y1="633" x2="526.75" y2="633" stroke="#000000" stroke-width="2.7" stroke-linecap="butt"/>
<text x="512.95" y="640.61" text-anchor="end" font-size="20.6" font-weight="bold" fill="#000000">0.15</text>
<line x1="516.25" y1="681.5" x2="526.75" y2="681.5" stroke="#000000" stroke-width="2.7" stroke-linecap="butt"/>
<text x="512.95" y="689.11" text-anchor="end" font-size="20.6" font-weight="bold" fill="#000000">0.10</text>
<line x1="516.25" y1="730.5" x2="526.75" y2="730.5" stroke="#000000" stroke-width="2.7" stroke-linecap="butt"/>
<text x="512.95" y="738.11" text-anchor="end" font-size="20.6" font-weight="bold" fill="#000000">0.05</text>
<text x="512.95" y="787.51" text-anchor="end" font-size="20.6" font-weight="bold" fill="#000000">0.00</text>
<line x1="612.5" y1="779.9" x2="612.5" y2="789.6" stroke="#000000" stroke-width="2.4" stroke-linecap="butt"/>
<line x1="742" y1="779.9" x2="742" y2="789.6" stroke="#000000" stroke-width="2.4" stroke-linecap="butt"/>
<path d="M612.5 568.75V555.75H742V605" stroke="#000000" stroke-width="2.1" fill="none" stroke-linejoin="miter"/>
<text x="676.75" y="541.5" text-anchor="middle" font-size="27.8" fill="#000000">0.8276</text>
<text x="569.8" y="810.85" text-anchor="start" font-size="20.2" font-weight="bold" fill="#000000">Sugar</text>
<text x="626" y="801.2" text-anchor="start" font-size="15.2" fill="#000000">Con</text>
<text x="691" y="810.85" text-anchor="start" font-size="20.2" font-weight="bold" fill="#000000">Sugar</text>
<text x="747.75" y="801.2" text-anchor="start" font-size="15.2" fill="#000000">Casp3</text>
<text transform="translate(463.5,656) rotate(-90)" text-anchor="middle" font-size="19.9" font-weight="bold" fill="#000000">Average meal size (g)</text>
<path d="M972 780.9V653.25H1058V780.9" stroke="#000000" stroke-width="4" fill="none" stroke-linejoin="miter"/>
<path d="M1105.65 780.9V687.65H1191.85V780.9" stroke="#b955f2" stroke-width="3.8" fill="none" stroke-linejoin="miter"/>
<line x1="1014.25" y1="635" x2="1014.25" y2="666.75" stroke="#000000" stroke-width="2.3" stroke-linecap="butt"/>
<line x1="992" y1="635" x2="1036.75" y2="635" stroke="#000000" stroke-width="2.3" stroke-linecap="butt"/>
<line x1="992" y1="666.75" x2="1036.75" y2="666.75" stroke="#000000" stroke-width="2.3" stroke-linecap="butt"/>
<line x1="1149.25" y1="673.75" x2="1149.25" y2="698.25" stroke="#b955f2" stroke-width="2.3" stroke-linecap="butt"/>
<line x1="1127" y1="673.75" x2="1171.25" y2="673.75" stroke="#b955f2" stroke-width="2.3" stroke-linecap="butt"/>
<line x1="1127" y1="698.25" x2="1171.25" y2="698.25" stroke="#b955f2" stroke-width="2.3" stroke-linecap="butt"/>
<circle cx="1025" cy="570.5" r="6.25" fill="#000000"/>
<circle cx="1004.25" cy="578.25" r="6.25" fill="#000000"/>
<circle cx="1014.5" cy="595.5" r="6.25" fill="#000000"/>
<circle cx="1004.25" cy="638.25" r="6.25" fill="#000000"/>
<circle cx="1025" cy="642" r="6.25" fill="#000000"/>
<circle cx="1025" cy="657.5" r="6.25" fill="#000000"/>
<circle cx="1004.25" cy="663.25" r="6.25" fill="#000000"/>
<circle cx="1025" cy="685.5" r="6.25" fill="#000000"/>
<circle cx="1004.25" cy="692.5" r="6.25" fill="#000000"/>
<circle cx="1014.5" cy="712.5" r="6.25" fill="#000000"/>
<circle cx="1014.5" cy="728.75" r="6.25" fill="#000000"/>
<rect x="1143.1" y="588.1" width="12.3" height="12.3" fill="#b955f2"/>
<rect x="1132.6" y="646.85" width="12.3" height="12.3" fill="#b955f2"/>
<rect x="1153.1" y="646.85" width="12.3" height="12.3" fill="#b955f2"/>
<rect x="1132.6" y="661.35" width="12.3" height="12.3" fill="#b955f2"/>
<rect x="1132.6" y="672.6" width="12.3" height="12.3" fill="#b955f2"/>
<rect x="1153.1" y="668.85" width="12.3" height="12.3" fill="#b955f2"/>
<rect x="1153.1" y="678.85" width="12.3" height="12.3" fill="#b955f2"/>
<rect x="1132.6" y="702.6" width="12.3" height="12.3" fill="#b955f2"/>
<rect x="1153.1" y="702.6" width="12.3" height="12.3" fill="#b955f2"/>
<rect x="1143.1" y="719.6" width="12.3" height="12.3" fill="#b955f2"/>
<rect x="1132.6" y="733.1" width="12.3" height="12.3" fill="#b955f2"/>
<rect x="1153.1" y="733.1" width="12.3" height="12.3" fill="#b955f2"/>
<line x1="925" y1="526.4" x2="925" y2="782" stroke="#000000" stroke-width="2.2" stroke-linecap="butt"/>
<line x1="914.5" y1="780.9" x2="1240" y2="780.9" stroke="#000000" stroke-width="2.2" stroke-linecap="butt"/>
<line x1="914.5" y1="527.5" x2="925" y2="527.5" stroke="#000000" stroke-width="2.4" stroke-linecap="butt"/>
<text x="911.7" y="535.32" text-anchor="end" font-size="21.2" font-weight="bold" fill="#000000">10</text>
<line x1="914.5" y1="578.25" x2="925" y2="578.25" stroke="#000000" stroke-width="2.4" stroke-linecap="butt"/>
<text x="911.7" y="586.07" text-anchor="end" font-size="21.2" font-weight="bold" fill="#000000">8</text>
<line x1="914.5" y1="628.75" x2="925" y2="628.75" stroke="#000000" stroke-width="2.4" stroke-linecap="butt"/>
<text x="911.7" y="636.57" text-anchor="end" font-size="21.2" font-weight="bold" fill="#000000">6</text>
<line x1="914.5" y1="679.25" x2="925" y2="679.25" stroke="#000000" stroke-width="2.4" stroke-linecap="butt"/>
<text x="911.7" y="687.07" text-anchor="end" font-size="21.2" font-weight="bold" fill="#000000">4</text>
<line x1="914.5" y1="730" x2="925" y2="730" stroke="#000000" stroke-width="2.4" stroke-linecap="butt"/>
<text x="911.7" y="737.82" text-anchor="end" font-size="21.2" font-weight="bold" fill="#000000">2</text>
<text x="911.7" y="788.72" text-anchor="end" font-size="21.2" font-weight="bold" fill="#000000">0</text>
<line x1="1014.25" y1="780.9" x2="1014.25" y2="791.6" stroke="#000000" stroke-width="2.4" stroke-linecap="butt"/>
<line x1="1149.25" y1="780.9" x2="1149.25" y2="791.6" stroke="#000000" stroke-width="2.4" stroke-linecap="butt"/>
<path d="M1014.25 555V540.75H1149.25V578.75" stroke="#000000" stroke-width="2.1" fill="none" stroke-linejoin="miter"/>
<text x="1081.1" y="526" text-anchor="middle" font-size="28.3" fill="#000000">0.0925</text>
<text x="969.6" y="812.85" text-anchor="start" font-size="21.1" font-weight="bold" fill="#000000">Sugar</text>
<text x="1029.25" y="802.4" text-anchor="start" font-size="15.6" fill="#000000">Con</text>
<text x="1095.8" y="812.85" text-anchor="start" font-size="21.1" font-weight="bold" fill="#000000">Sugar</text>
<text x="1155.75" y="802.4" text-anchor="start" font-size="15.6" fill="#000000">Casp3</text>
<text transform="translate(876.5,653) rotate(-90)" text-anchor="middle" font-size="20.6" font-weight="bold" fill="#000000">Average meal duration (min)</text>
<path d="M1337 781.9V674.5H1426.75V781.9" stroke="#000000" stroke-width="4" fill="none" stroke-linejoin="miter"/>
<path d="M1477.65 781.9V715.65H1567.6V781.9" stroke="#b955f2" stroke-width="3.8" fill="none" stroke-linejoin="miter"/>
<line x1="1381.75" y1="660.75" x2="1381.75" y2="684.25" stroke="#000000" stroke-width="2.5" stroke-linecap="butt"/>
<line x1="1358.25" y1="660.75" x2="1405" y2="660.75" stroke="#000000" stroke-width="2.5" stroke-linecap="butt"/>
<line x1="1358.25" y1="684.25" x2="1405" y2="684.25" stroke="#000000" stroke-width="2.5" stroke-linecap="butt"/>
<line x1="1522.5" y1="705.75" x2="1522.5" y2="721.25" stroke="#b955f2" stroke-width="2.5" stroke-linecap="butt"/>
<line x1="1499.5" y1="705.75" x2="1545.5" y2="705.75" stroke="#b955f2" stroke-width="2.5" stroke-linecap="butt"/>
<line x1="1499.5" y1="721.25" x2="1545.5" y2="721.25" stroke="#b955f2" stroke-width="2.5" stroke-linecap="butt"/>
<circle cx="1381.75" cy="588.75" r="6.25" fill="#000000"/>
<circle cx="1392" cy="630.5" r="6.25" fill="#000000"/>
<circle cx="1371.75" cy="639.25" r="6.25" fill="#000000"/>
<circle cx="1371.75" cy="681.25" r="6.25" fill="#000000"/>
<circle cx="1392" cy="681.25" r="6.25" fill="#000000"/>
<circle cx="1412.5" cy="681.25" r="6.25" fill="#000000"/>
<circle cx="1351.25" cy="689.5" r="6.25" fill="#000000"/>
<circle cx="1371.75" cy="698.75" r="6.25" fill="#000000"/>
<circle cx="1392" cy="698.25" r="6.25" fill="#000000"/>
<circle cx="1412.5" cy="698.75" r="6.25" fill="#000000"/>
<circle cx="1381.75" cy="715" r="6.25" fill="#000000"/>
<rect x="1516.35" y="649.6" width="12.3" height="12.3" fill="#b955f2"/>
<rect x="1516.35" y="665.85" width="12.3" height="12.3" fill="#b955f2"/>
<rect x="1516.35" y="683.35" width="12.3" height="12.3" fill="#b955f2"/>
<rect x="1516.35" y="700.1" width="12.3" height="12.3" fill="#b955f2"/>
<rect x="1475.1" y="716.35" width="12.3" height="12.3" fill="#b955f2"/>
<rect x="1490.6" y="716.35" width="12.3" height="12.3" fill="#b955f2"/>
<rect x="1523.85" y="716.35" width="12.3" height="12.3" fill="#b955f2"/>
<rect x="1541.85" y="716.35" width="12.3" height="12.3" fill="#b955f2"/>
<rect x="1558.1" y="716.35" width="12.3" height="12.3" fill="#b955f2"/>
<rect x="1507.6" y="725.1" width="12.3" height="12.3" fill="#b955f2"/>
<rect x="1524.35" y="733.85" width="12.3" height="12.3" fill="#b955f2"/>
<rect x="1516.35" y="750.6" width="12.3" height="12.3" fill="#b955f2"/>
<line x1="1288" y1="528.25" x2="1288" y2="783" stroke="#000000" stroke-width="2.5" stroke-linecap="butt"/>
<line x1="1277.5" y1="781.9" x2="1617" y2="781.9" stroke="#000000" stroke-width="2.2" stroke-linecap="butt"/>
<line x1="1277.5" y1="529.5" x2="1288" y2="529.5" stroke="#000000" stroke-width="2.7" stroke-linecap="butt"/>
<text x="1274.7" y="537.32" text-anchor="end" font-size="21.2" font-weight="bold" fill="#000000">10</text>
<line x1="1277.5" y1="580" x2="1288" y2="580" stroke="#000000" stroke-width="2.7" stroke-linecap="butt"/>
<text x="1274.7" y="587.82" text-anchor="end" font-size="21.2" font-weight="bold" fill="#000000">8</text>
<line x1="1277.5" y1="630.25" x2="1288" y2="630.25" stroke="#000000" stroke-width="2.7" stroke-linecap="butt"/>
<text x="1274.7" y="638.07" text-anchor="end" font-size="21.2" font-weight="bold" fill="#000000">6</text>
<line x1="1277.5" y1="680.75" x2="1288" y2="680.75" stroke="#000000" stroke-width="2.7" stroke-linecap="butt"/>
<text x="1274.7" y="688.57" text-anchor="end" font-size="21.2" font-weight="bold" fill="#000000">4</text>
<line x1="1277.5" y1="731.25" x2="1288" y2="731.25" stroke="#000000" stroke-width="2.7" stroke-linecap="butt"/>
<text x="1274.7" y="739.07" text-anchor="end" font-size="21.2" font-weight="bold" fill="#000000">2</text>
<text x="1274.7" y="789.72" text-anchor="end" font-size="21.2" font-weight="bold" fill="#000000">0</text>
<line x1="1381.75" y1="781.9" x2="1381.75" y2="792.8" stroke="#000000" stroke-width="3" stroke-linecap="butt"/>
<line x1="1522.5" y1="781.9" x2="1522.5" y2="792.8" stroke="#000000" stroke-width="3" stroke-linecap="butt"/>
<path d="M1381.75 573V559H1522.5V640" stroke="#000000" stroke-width="2.5" fill="none" stroke-linejoin="miter"/>
<text x="1450" y="544.5" text-anchor="middle" font-size="28.3" fill="#000000">0.0071</text>
<text x="1337.3" y="814.05" text-anchor="start" font-size="21" font-weight="bold" fill="#000000">Sugar</text>
<text x="1396.8" y="803.6" text-anchor="start" font-size="15.5" fill="#000000">Con</text>
<text x="1469.8" y="814.05" text-anchor="start" font-size="21" font-weight="bold" fill="#000000">Sugar</text>
<text x="1529.3" y="803.6" text-anchor="start" font-size="15.5" fill="#000000">Casp3</text>
<text transform="translate(1237.5,654.4) rotate(-90)" text-anchor="middle" font-size="20.4" font-weight="bold" fill="#000000">Meal number</text>
<path d="M1736.75 782.95V673.25H1820V782.95" stroke="#000000" stroke-width="4" fill="none" stroke-linejoin="miter"/>
<path d="M1867.9 782.95V631.9H1950.85V782.95" stroke="#b955f2" stroke-width="3.8" fill="none" stroke-linejoin="miter"/>
<line x1="1778.25" y1="657" x2="1778.25" y2="684.5" stroke="#000000" stroke-width="2.5" stroke-linecap="butt"/>
<line x1="1756.5" y1="657" x2="1799.75" y2="657" stroke="#000000" stroke-width="2.5" stroke-linecap="butt"/>
<line x1="1756.5" y1="684.5" x2="1799.75" y2="684.5" stroke="#000000" stroke-width="2.5" stroke-linecap="butt"/>
<line x1="1909.25" y1="612.5" x2="1909.25" y2="647" stroke="#b955f2" stroke-width="2.5" stroke-linecap="butt"/>
<line x1="1887.25" y1="612.5" x2="1931" y2="612.5" stroke="#b955f2" stroke-width="2.5" stroke-linecap="butt"/>
<line x1="1887.25" y1="647" x2="1931" y2="647" stroke="#b955f2" stroke-width="2.5" stroke-linecap="butt"/>
<circle cx="1778.25" cy="604.5" r="6.25" fill="#000000"/>
<circle cx="1778.25" cy="615" r="6.25" fill="#000000"/>
<circle cx="1788.25" cy="626.25" r="6.25" fill="#000000"/>
<circle cx="1768.25" cy="630.75" r="6.25" fill="#000000"/>
<circle cx="1778.25" cy="659.25" r="6.25" fill="#000000"/>
<circle cx="1778.25" cy="686.25" r="6.25" fill="#000000"/>
<circle cx="1758.25" cy="698.25" r="6.25" fill="#000000"/>
<circle cx="1778.25" cy="700.75" r="6.25" fill="#000000"/>
<circle cx="1758.25" cy="720.75" r="6.25" fill="#000000"/>
<circle cx="1778.25" cy="718.25" r="6.25" fill="#000000"/>
<circle cx="1797.75" cy="720.75" r="6.25" fill="#000000"/>
<rect x="1903.1" y="542.6" width="12.3" height="12.3" fill="#b955f2"/>
<rect x="1903.1" y="560.1" width="12.3" height="12.3" fill="#b955f2"/>
<rect x="1922.85" y="576.85" width="12.3" height="12.3" fill="#b955f2"/>
<rect x="1903.1" y="583.85" width="12.3" height="12.3" fill="#b955f2"/>
<rect x="1903.1" y="606.35" width="12.3" height="12.3" fill="#b955f2"/>
<rect x="1903.1" y="612.85" width="12.3" height="12.3" fill="#b955f2"/>
<rect x="1883.35" y="613.1" width="12.3" height="12.3" fill="#b955f2"/>
<rect x="1903.1" y="618.85" width="12.3" height="12.3" fill="#b955f2"/>
<rect x="1883.35" y="681.35" width="12.3" height="12.3" fill="#b955f2"/>
<rect x="1922.85" y="686.85" width="12.3" height="12.3" fill="#b955f2"/>
<rect x="1903.1" y="688.1" width="12.3" height="12.3" fill="#b955f2"/>
<rect x="1903.1" y="706.35" width="12.3" height="12.3" fill="#b955f2"/>
<line x1="1690.75" y1="534.25" x2="1690.75" y2="784.05" stroke="#000000" stroke-width="2.5" stroke-linecap="butt"/>
<line x1="1680.25" y1="782.95" x2="1998" y2="782.95" stroke="#000000" stroke-width="2.2" stroke-linecap="butt"/>
<line x1="1680.25" y1="535.5" x2="1690.75" y2="535.5" stroke="#000000" stroke-width="2.7" stroke-linecap="butt"/>
<text x="1678.7" y="543.32" text-anchor="end" font-size="21.2" font-weight="bold" fill="#000000">400</text>
<line x1="1680.25" y1="597.5" x2="1690.75" y2="597.5" stroke="#000000" stroke-width="2.7" stroke-linecap="butt"/>
<text x="1678.7" y="605.32" text-anchor="end" font-size="21.2" font-weight="bold" fill="#000000">300</text>
<line x1="1680.25" y1="659.25" x2="1690.75" y2="659.25" stroke="#000000" stroke-width="2.7" stroke-linecap="butt"/>
<text x="1678.7" y="667.07" text-anchor="end" font-size="21.2" font-weight="bold" fill="#000000">200</text>
<line x1="1680.25" y1="721.25" x2="1690.75" y2="721.25" stroke="#000000" stroke-width="2.7" stroke-linecap="butt"/>
<text x="1678.7" y="729.07" text-anchor="end" font-size="21.2" font-weight="bold" fill="#000000">100</text>
<text x="1678.7" y="790.77" text-anchor="end" font-size="21.2" font-weight="bold" fill="#000000">0</text>
<line x1="1778.25" y1="782.95" x2="1778.25" y2="793.6" stroke="#000000" stroke-width="3" stroke-linecap="butt"/>
<line x1="1909.25" y1="782.95" x2="1909.25" y2="793.6" stroke="#000000" stroke-width="3" stroke-linecap="butt"/>
<path d="M1778.25 590V518.75H1909.25V533" stroke="#000000" stroke-width="2.5" fill="none" stroke-linejoin="miter"/>
<text x="1842.75" y="505.3" text-anchor="middle" font-size="28.3" fill="#000000">0.0782</text>
<text x="1734.6" y="814.45" text-anchor="start" font-size="20.6" font-weight="bold" fill="#000000">Sugar</text>
<text x="1792.05" y="805.2" text-anchor="start" font-size="15.2" fill="#000000">Con</text>
<text x="1857.6" y="814.45" text-anchor="start" font-size="20.6" font-weight="bold" fill="#000000">Sugar</text>
<text x="1915.3" y="805.2" text-anchor="start" font-size="15.2" fill="#000000">Casp3</text>
<text transform="translate(1631.5,658) rotate(-90)" text-anchor="middle" font-size="20.4" font-weight="bold" fill="#000000">Inter meal interval (min)</text>
<text x="1116.7" y="32.4" text-anchor="middle" font-size="43.7" font-weight="bold" fill="#000000">Dark Phase<tspan dy="3.1" stroke="#000" stroke-width="2.1">_</tspan><tspan dy="-3.1">45% HFHSD</tspan></text>
<text x="1102.5" y="472.7" text-anchor="middle" font-size="43.7" font-weight="bold" fill="#000000">Light Phase<tspan dy="3.1" stroke="#000" stroke-width="2.1">_</tspan><tspan dy="-3.1">45% HFHSD</tspan></text>
<text x="1.5" y="114" text-anchor="start" font-size="51.5" font-weight="bold" fill="#000000">A</text>
<text x="-3" y="532.8" text-anchor="start" font-size="50.4" font-weight="bold" fill="#000000">B</text>
<text x="0.8" y="936.3" text-anchor="start" font-size="50" font-weight="bold" fill="#000000">C</text>
<text x="653.5" y="936.2" text-anchor="start" font-size="50.4" font-weight="bold" fill="#000000">D</text>
<text x="1367" y="948" text-anchor="start" font-size="52" font-weight="bold" fill="#000000">E</text>
<path d="M190.25 1281.6V1191.75H263.25V1281.6" stroke="#000000" stroke-width="4.5" fill="none" stroke-linejoin="miter"/>
<path d="M275.25 1281.6V1231.75H348.25V1281.6" stroke="#000000" stroke-width="4.5" fill="none" stroke-linejoin="miter"/>
<path d="M400.25 1281.6V1176.25H473.25V1281.6" stroke="#b955f2" stroke-width="4.5" fill="none" stroke-linejoin="miter"/>
<path d="M486.5 1281.6V1225.75H559.5V1281.6" stroke="#b955f2" stroke-width="4.5" fill="none" stroke-linejoin="miter"/>
<line x1="148.6" y1="1003.85" x2="148.6" y2="1352.65" stroke="#000000" stroke-width="3.1" stroke-linecap="butt"/>
<line x1="134.3" y1="1350.75" x2="603.25" y2="1350.75" stroke="#000000" stroke-width="3.8" stroke-linecap="butt"/>
<line x1="134.3" y1="1281.6" x2="600.75" y2="1281.6" stroke="#000000" stroke-width="3.8" stroke-linecap="butt"/>
<line x1="226.25" y1="1175.75" x2="226.25" y2="1202.5" stroke="#000000" stroke-width="3" stroke-linecap="butt"/>
<line x1="207" y1="1175.75" x2="245.5" y2="1175.75" stroke="#000000" stroke-width="3" stroke-linecap="butt"/>
<line x1="207" y1="1202.5" x2="245.5" y2="1202.5" stroke="#000000" stroke-width="3" stroke-linecap="butt"/>
<line x1="312" y1="1212.75" x2="312" y2="1245" stroke="#000000" stroke-width="3" stroke-linecap="butt"/>
<line x1="293" y1="1212.75" x2="331.25" y2="1212.75" stroke="#000000" stroke-width="3" stroke-linecap="butt"/>
<line x1="293" y1="1245" x2="331.25" y2="1245" stroke="#000000" stroke-width="3" stroke-linecap="butt"/>
<line x1="436.75" y1="1149.5" x2="436.75" y2="1197" stroke="#b955f2" stroke-width="3" stroke-linecap="butt"/>
<line x1="418" y1="1149.5" x2="455.75" y2="1149.5" stroke="#b955f2" stroke-width="3" stroke-linecap="butt"/>
<line x1="418" y1="1197" x2="455.75" y2="1197" stroke="#b955f2" stroke-width="3" stroke-linecap="butt"/>
<line x1="522.75" y1="1192" x2="522.75" y2="1252.75" stroke="#b955f2" stroke-width="3" stroke-linecap="butt"/>
<line x1="503.75" y1="1192" x2="541.75" y2="1192" stroke="#b955f2" stroke-width="3" stroke-linecap="butt"/>
<line x1="503.75" y1="1252.75" x2="541.75" y2="1252.75" stroke="#b955f2" stroke-width="3" stroke-linecap="butt"/>
<rect x="219" y="1119" width="14.5" height="14.5" fill="#000000"/>
<rect x="187.25" y="1149.75" width="14.5" height="14.5" fill="#000000"/>
<rect x="251" y="1147.75" width="14.5" height="14.5" fill="#000000"/>
<rect x="219" y="1159.75" width="14.5" height="14.5" fill="#000000"/>
<rect x="202.75" y="1189.25" width="14.5" height="14.5" fill="#000000"/>
<rect x="234.5" y="1196" width="14.5" height="14.5" fill="#000000"/>
<rect x="251" y="1212.25" width="14.5" height="14.5" fill="#000000"/>
<rect x="219" y="1225.5" width="14.5" height="14.5" fill="#000000"/>
<rect x="219" y="1242.25" width="14.5" height="14.5" fill="#000000"/>
<rect x="291.5" y="1164.25" width="14.5" height="14.5" fill="#000000"/>
<rect x="319" y="1159.75" width="14.5" height="14.5" fill="#000000"/>
<rect x="291.5" y="1189.25" width="14.5" height="14.5" fill="#000000"/>
<rect x="319" y="1201" width="14.5" height="14.5" fill="#000000"/>
<rect x="304.75" y="1218.5" width="14.5" height="14.5" fill="#000000"/>
<rect x="291.5" y="1248.5" width="14.5" height="14.5" fill="#000000"/>
<rect x="319" y="1246" width="14.5" height="14.5" fill="#000000"/>
<rect x="304.75" y="1274.25" width="14.5" height="14.5" fill="#000000"/>
<rect x="304.75" y="1297.25" width="14.5" height="14.5" fill="#000000"/>
<circle cx="423.25" cy="1081.25" r="7.2" fill="#b955f2"/>
<circle cx="450.75" cy="1078.25" r="7.2" fill="#b955f2"/>
<circle cx="436.75" cy="1110" r="7.2" fill="#b955f2"/>
<circle cx="436.75" cy="1149.5" r="7.2" fill="#b955f2"/>
<circle cx="436.75" cy="1188.25" r="7.2" fill="#b955f2"/>
<circle cx="450.75" cy="1219.5" r="7.2" fill="#b955f2"/>
<circle cx="423.25" cy="1232.75" r="7.2" fill="#b955f2"/>
<circle cx="423.25" cy="1250.25" r="7.2" fill="#b955f2"/>
<circle cx="450.75" cy="1248.75" r="7.2" fill="#b955f2"/>
<circle cx="522.75" cy="1034.5" r="7.2" fill="#b955f2"/>
<circle cx="522.75" cy="1110" r="7.2" fill="#b955f2"/>
<circle cx="506.75" cy="1226.5" r="7.2" fill="#b955f2"/>
<circle cx="538.75" cy="1232" r="7.2" fill="#b955f2"/>
<circle cx="522.75" cy="1253.25" r="7.2" fill="#b955f2"/>
<circle cx="491.25" cy="1281.5" r="7.2" fill="#b955f2"/>
<circle cx="522.75" cy="1281.5" r="7.2" fill="#b955f2"/>
<circle cx="555" cy="1281.5" r="7.2" fill="#b955f2"/>
<circle cx="522.75" cy="1303.25" r="7.2" fill="#b955f2"/>
<line x1="134.3" y1="1005.75" x2="148.6" y2="1005.75" stroke="#000000" stroke-width="3.8" stroke-linecap="butt"/>
<text x="129.8" y="1015.48" text-anchor="end" font-size="28.8" font-weight="bold" fill="#000000">40</text>
<line x1="134.3" y1="1075.5" x2="148.6" y2="1075.5" stroke="#000000" stroke-width="3.8" stroke-linecap="butt"/>
<text x="129.8" y="1085.23" text-anchor="end" font-size="28.8" font-weight="bold" fill="#000000">30</text>
<line x1="134.3" y1="1144.5" x2="148.6" y2="1144.5" stroke="#000000" stroke-width="3.8" stroke-linecap="butt"/>
<text x="129.8" y="1154.23" text-anchor="end" font-size="28.8" font-weight="bold" fill="#000000">20</text>
<line x1="134.3" y1="1213.25" x2="148.6" y2="1213.25" stroke="#000000" stroke-width="3.8" stroke-linecap="butt"/>
<text x="129.8" y="1222.98" text-anchor="end" font-size="28.8" font-weight="bold" fill="#000000">10</text>
<line x1="134.3" y1="1281.6" x2="148.6" y2="1281.6" stroke="#000000" stroke-width="3.8" stroke-linecap="butt"/>
<text x="129.8" y="1291.33" text-anchor="end" font-size="28.8" font-weight="bold" fill="#000000">0</text>
<line x1="134.3" y1="1350.75" x2="148.6" y2="1350.75" stroke="#000000" stroke-width="3.8" stroke-linecap="butt"/>
<text x="129.8" y="1360.48" text-anchor="end" font-size="28.8" font-weight="bold" fill="#000000">-10</text>
<line x1="225.75" y1="1350.75" x2="225.75" y2="1364.5" stroke="#000000" stroke-width="3.8" stroke-linecap="butt"/>
<line x1="311.75" y1="1350.75" x2="311.75" y2="1364.5" stroke="#000000" stroke-width="3.8" stroke-linecap="butt"/>
<line x1="436.75" y1="1350.75" x2="436.75" y2="1364.5" stroke="#000000" stroke-width="3.8" stroke-linecap="butt"/>
<line x1="522" y1="1350.75" x2="522" y2="1364.5" stroke="#000000" stroke-width="3.8" stroke-linecap="butt"/>
<path d="M226.25 1105V993.75H312V1146.25" stroke="#000000" stroke-width="3.6" fill="none" stroke-linejoin="miter"/>
<path d="M436.75 1057.5V993.75H522.75V1013.25" stroke="#000000" stroke-width="3.6" fill="none" stroke-linejoin="miter"/>
<text x="268.5" y="974.6" text-anchor="middle" font-size="38.9" fill="#000000">0.2236</text>
<text x="479.1" y="974.6" text-anchor="middle" font-size="38.9" fill="#000000">0.2236</text>
<text transform="translate(71.4,1174.8) rotate(-90)" text-anchor="middle" font-size="28.6" font-weight="bold" fill="#000000">BW increase (%)</text>
<g transform="translate(224.5,1380.7) rotate(-15)">
<text x="0" y="0" text-anchor="end" font-size="17.6">Con</text>
<text x="-32.79" y="11.75" text-anchor="end" font-size="23.5" font-weight="bold">Sugar</text>
</g>
<g transform="translate(310.5,1380.7) rotate(-15)">
<text x="0" y="0" text-anchor="end" font-size="17.6">Casp3</text>
<text x="-51.37" y="11.75" text-anchor="end" font-size="23.5" font-weight="bold">Sugar</text>
</g>
<g transform="translate(435,1380.7) rotate(-15)">
<text x="0" y="0" text-anchor="end" font-size="17.6">Con</text>
<text x="-32.79" y="11.75" text-anchor="end" font-size="23.5" font-weight="bold">Sugar</text>
</g>
<g transform="translate(521,1380.7) rotate(-15)">
<text x="0" y="0" text-anchor="end" font-size="17.6">Casp3</text>
<text x="-51.37" y="11.75" text-anchor="end" font-size="23.5" font-weight="bold">Sugar</text>
</g>
<path d="M855.25 1246.8V1196.25H932.25V1246.8" stroke="#000000" stroke-width="4.5" fill="none" stroke-linejoin="miter"/>
<path d="M944.75 1246.8V1225.5H1022.25V1246.8" stroke="#000000" stroke-width="4.5" fill="none" stroke-linejoin="miter"/>
<path d="M1076.5 1246.8V1180.5H1153.25V1246.8" stroke="#b955f2" stroke-width="4.5" fill="none" stroke-linejoin="miter"/>
<path d="M1166 1246.8V1233.5H1243.25V1246.8" stroke="#b955f2" stroke-width="4.5" fill="none" stroke-linejoin="miter"/>
<line x1="812.1" y1="973.6" x2="812.1" y2="1339" stroke="#000000" stroke-width="3.8" stroke-linecap="butt"/>
<line x1="797" y1="1337.1" x2="1288.75" y2="1337.1" stroke="#000000" stroke-width="3.8" stroke-linecap="butt"/>
<line x1="797" y1="1246.8" x2="1286.75" y2="1246.8" stroke="#000000" stroke-width="3.8" stroke-linecap="butt"/>
<line x1="893.25" y1="1183.25" x2="893.25" y2="1204.5" stroke="#000000" stroke-width="3" stroke-linecap="butt"/>
<line x1="873" y1="1183.25" x2="913.5" y2="1183.25" stroke="#000000" stroke-width="3" stroke-linecap="butt"/>
<line x1="873" y1="1204.5" x2="913.5" y2="1204.5" stroke="#000000" stroke-width="3" stroke-linecap="butt"/>
<line x1="983.25" y1="1216.5" x2="983.25" y2="1235.75" stroke="#000000" stroke-width="3" stroke-linecap="butt"/>
<line x1="963.75" y1="1216.5" x2="1002.5" y2="1216.5" stroke="#000000" stroke-width="3" stroke-linecap="butt"/>
<line x1="963.75" y1="1235.75" x2="1002.5" y2="1235.75" stroke="#000000" stroke-width="3" stroke-linecap="butt"/>
<line x1="1114.5" y1="1153.5" x2="1114.5" y2="1202.75" stroke="#b955f2" stroke-width="3" stroke-linecap="butt"/>
<line x1="1094.5" y1="1153.5" x2="1134.5" y2="1153.5" stroke="#b955f2" stroke-width="3" stroke-linecap="butt"/>
<line x1="1094.5" y1="1202.75" x2="1134.5" y2="1202.75" stroke="#b955f2" stroke-width="3" stroke-linecap="butt"/>
<line x1="1205" y1="1216.5" x2="1205" y2="1244.5" stroke="#b955f2" stroke-width="3" stroke-linecap="butt"/>
<line x1="1185" y1="1216.5" x2="1224.5" y2="1216.5" stroke="#b955f2" stroke-width="3" stroke-linecap="butt"/>
<line x1="1185" y1="1244.5" x2="1224.5" y2="1244.5" stroke="#b955f2" stroke-width="3" stroke-linecap="butt"/>
<rect x="885.75" y="1110.25" width="15" height="15" fill="#000000"/>
<rect x="885.75" y="1165.75" width="15" height="15" fill="#000000"/>
<rect x="868.75" y="1182" width="15" height="15" fill="#000000"/>
<rect x="902.5" y="1182" width="15" height="15" fill="#000000"/>
<rect x="852.5" y="1199" width="15" height="15" fill="#000000"/>
<rect x="885.75" y="1197" width="15" height="15" fill="#000000"/>
<rect x="919.5" y="1199" width="15" height="15" fill="#000000"/>
<rect x="902.5" y="1217" width="15" height="15" fill="#000000"/>
<rect x="868.75" y="1224" width="15" height="15" fill="#000000"/>
<rect x="942.5" y="1196.5" width="15" height="15" fill="#000000"/>
<rect x="964.5" y="1194.5" width="15" height="15" fill="#000000"/>
<rect x="987" y="1202" width="15" height="15" fill="#000000"/>
<rect x="1009.5" y="1192.75" width="15" height="15" fill="#000000"/>
<rect x="964.5" y="1215.75" width="15" height="15" fill="#000000"/>
<rect x="987" y="1219.5" width="15" height="15" fill="#000000"/>
<rect x="964.5" y="1232" width="15" height="15" fill="#000000"/>
<rect x="987" y="1236.5" width="15" height="15" fill="#000000"/>
<rect x="964.5" y="1249" width="15" height="15" fill="#000000"/>
<polygon points="1114.5,1051.38 1107,1065.62 1122,1065.62" fill="#b955f2"/>
<polygon points="1114.5,1072.88 1107,1087.12 1122,1087.12" fill="#b955f2"/>
<polygon points="1114.5,1131.12 1107,1145.38 1122,1145.38" fill="#b955f2"/>
<polygon points="1114.5,1150.38 1107,1164.62 1122,1164.62" fill="#b955f2"/>
<polygon points="1114.5,1203.62 1107,1217.88 1122,1217.88" fill="#b955f2"/>
<polygon points="1100.5,1226.88 1093,1241.12 1108,1241.12" fill="#b955f2"/>
<polygon points="1129.25,1221.12 1121.75,1235.38 1136.75,1235.38" fill="#b955f2"/>
<polygon points="1129.25,1238.62 1121.75,1252.88 1136.75,1252.88" fill="#b955f2"/>
<polygon points="1100.5,1247.88 1093,1262.12 1108,1262.12" fill="#b955f2"/>
<polygon points="1205,1131.12 1197.5,1145.38 1212.5,1145.38" fill="#b955f2"/>
<polygon points="1188,1196.88 1180.5,1211.12 1195.5,1211.12" fill="#b955f2"/>
<polygon points="1221.75,1206.12 1214.25,1220.38 1229.25,1220.38" fill="#b955f2"/>
<polygon points="1171.25,1234.88 1163.75,1249.12 1178.75,1249.12" fill="#b955f2"/>
<polygon points="1238.75,1231.12 1231.25,1245.38 1246.25,1245.38" fill="#b955f2"/>
<polygon points="1205,1241.12 1197.5,1255.38 1212.5,1255.38" fill="#b955f2"/>
<polygon points="1205,1254.88 1197.5,1269.12 1212.5,1269.12" fill="#b955f2"/>
<polygon points="1238.75,1256.12 1231.25,1270.38 1246.25,1270.38" fill="#b955f2"/>
<polygon points="1171.25,1268.12 1163.75,1282.38 1178.75,1282.38" fill="#b955f2"/>
<line x1="797" y1="975.5" x2="812.1" y2="975.5" stroke="#000000" stroke-width="3.8" stroke-linecap="butt"/>
<text x="792.5" y="986.36" text-anchor="end" font-size="30" font-weight="bold" fill="#000000">600</text>
<line x1="797" y1="1066.2" x2="812.1" y2="1066.2" stroke="#000000" stroke-width="3.8" stroke-linecap="butt"/>
<text x="792.5" y="1077.06" text-anchor="end" font-size="30" font-weight="bold" fill="#000000">400</text>
<line x1="797" y1="1156.9" x2="812.1" y2="1156.9" stroke="#000000" stroke-width="3.8" stroke-linecap="butt"/>
<text x="792.5" y="1167.76" text-anchor="end" font-size="30" font-weight="bold" fill="#000000">200</text>
<line x1="797" y1="1246.8" x2="812.1" y2="1246.8" stroke="#000000" stroke-width="3.8" stroke-linecap="butt"/>
<text x="792.5" y="1257.66" text-anchor="end" font-size="30" font-weight="bold" fill="#000000">0</text>
<line x1="797" y1="1337.1" x2="812.1" y2="1337.1" stroke="#000000" stroke-width="3.8" stroke-linecap="butt"/>
<text x="792.5" y="1347.96" text-anchor="end" font-size="30" font-weight="bold" fill="#000000">-200</text>
<line x1="893.25" y1="1337.1" x2="893.25" y2="1352" stroke="#000000" stroke-width="3.3" stroke-linecap="butt"/>
<line x1="983.5" y1="1337.1" x2="983.5" y2="1352" stroke="#000000" stroke-width="3.3" stroke-linecap="butt"/>
<line x1="1114.5" y1="1337.1" x2="1114.5" y2="1352" stroke="#000000" stroke-width="3.3" stroke-linecap="butt"/>
<line x1="1205" y1="1337.1" x2="1205" y2="1352" stroke="#000000" stroke-width="3.3" stroke-linecap="butt"/>
<path d="M893.25 1091.25V1007.5H983.25V1188.25" stroke="#000000" stroke-width="3.4" fill="none" stroke-linejoin="miter"/>
<path d="M1114.5 1030.5V1009.5H1205V1094.25" stroke="#000000" stroke-width="3.2" fill="none" stroke-linejoin="miter"/>
<text x="937.6" y="988.75" text-anchor="middle" font-size="35" fill="#000000">0.2030</text>
<text x="1159.1" y="990" text-anchor="middle" font-size="35" fill="#000000">0.0429</text>
<text transform="translate(713.5,1152.5) rotate(-90)" text-anchor="middle" font-size="30" font-weight="bold" fill="#000000">Fat mass increase (%)</text>
<g transform="translate(892.3,1370.2) rotate(-14.3)">
<text x="0" y="0" text-anchor="end" font-size="18.5">Con</text>
<text x="-34.44" y="12.5" text-anchor="end" font-size="25" font-weight="bold">Sucrose</text>
</g>
<g transform="translate(982.3,1370.2) rotate(-14.3)">
<text x="0" y="0" text-anchor="end" font-size="18.5">Casp3</text>
<text x="-53.97" y="12.5" text-anchor="end" font-size="25" font-weight="bold">Sucrose</text>
</g>
<g transform="translate(1113.3,1370.2) rotate(-14.3)">
<text x="0" y="0" text-anchor="end" font-size="18.5">Con</text>
<text x="-34.44" y="12.5" text-anchor="end" font-size="25" font-weight="bold">Sucrose</text>
</g>
<g transform="translate(1203.3,1370.2) rotate(-14.3)">
<text x="0" y="0" text-anchor="end" font-size="18.5">Casp3</text>
<text x="-53.97" y="12.5" text-anchor="end" font-size="25" font-weight="bold">Sucrose</text>
</g>
<rect x="844.25" y="882.25" width="34" height="14.25" fill="none" stroke="#000000" stroke-width="4.5"/>
<text x="901" y="899.5" text-anchor="start" font-size="30.5" fill="#000000">2 Weeks</text>
<rect x="1046.5" y="882.75" width="33.75" height="13.75" fill="none" stroke="#b955f2" stroke-width="4.5"/>
<text x="1103.2" y="899.5" text-anchor="start" font-size="30.5" fill="#000000">4 Weeks</text>
<line x1="1526.74" y1="1310.17" x2="1526.74" y2="1334.29" stroke="#b955f2" stroke-width="1.4" stroke-linecap="butt"/>
<line x1="1521.24" y1="1310.17" x2="1532.24" y2="1310.17" stroke="#b955f2" stroke-width="1.4" stroke-linecap="butt"/>
<line x1="1521.24" y1="1334.29" x2="1532.24" y2="1334.29" stroke="#b955f2" stroke-width="1.4" stroke-linecap="butt"/>
<line x1="1546.38" y1="1288.61" x2="1546.38" y2="1308.34" stroke="#b955f2" stroke-width="1.4" stroke-linecap="butt"/>
<line x1="1540.88" y1="1288.61" x2="1551.88" y2="1288.61" stroke="#b955f2" stroke-width="1.4" stroke-linecap="butt"/>
<line x1="1540.88" y1="1308.34" x2="1551.88" y2="1308.34" stroke="#b955f2" stroke-width="1.4" stroke-linecap="butt"/>
<line x1="1566.02" y1="1286.97" x2="1566.02" y2="1298.3" stroke="#b955f2" stroke-width="1.4" stroke-linecap="butt"/>
<line x1="1560.52" y1="1286.97" x2="1571.52" y2="1286.97" stroke="#b955f2" stroke-width="1.4" stroke-linecap="butt"/>
<line x1="1560.52" y1="1298.3" x2="1571.52" y2="1298.3" stroke="#b955f2" stroke-width="1.4" stroke-linecap="butt"/>
<line x1="1585.66" y1="1265.41" x2="1585.66" y2="1293.73" stroke="#b955f2" stroke-width="1.4" stroke-linecap="butt"/>
<line x1="1580.16" y1="1265.41" x2="1591.16" y2="1265.41" stroke="#b955f2" stroke-width="1.4" stroke-linecap="butt"/>
<line x1="1580.16" y1="1293.73" x2="1591.16" y2="1293.73" stroke="#b955f2" stroke-width="1.4" stroke-linecap="butt"/>
<line x1="1605.3" y1="1240.19" x2="1605.3" y2="1280.94" stroke="#b955f2" stroke-width="1.4" stroke-linecap="butt"/>
<line x1="1599.8" y1="1240.19" x2="1610.8" y2="1240.19" stroke="#b955f2" stroke-width="1.4" stroke-linecap="butt"/>
<line x1="1599.8" y1="1280.94" x2="1610.8" y2="1280.94" stroke="#b955f2" stroke-width="1.4" stroke-linecap="butt"/>
<line x1="1624.94" y1="1235.26" x2="1624.94" y2="1275.09" stroke="#b955f2" stroke-width="1.4" stroke-linecap="butt"/>
<line x1="1619.44" y1="1235.26" x2="1630.44" y2="1235.26" stroke="#b955f2" stroke-width="1.4" stroke-linecap="butt"/>
<line x1="1619.44" y1="1275.09" x2="1630.44" y2="1275.09" stroke="#b955f2" stroke-width="1.4" stroke-linecap="butt"/>
<line x1="1644.58" y1="1229.23" x2="1644.58" y2="1266.87" stroke="#b955f2" stroke-width="1.4" stroke-linecap="butt"/>
<line x1="1639.08" y1="1229.23" x2="1650.08" y2="1229.23" stroke="#b955f2" stroke-width="1.4" stroke-linecap="butt"/>
<line x1="1639.08" y1="1266.87" x2="1650.08" y2="1266.87" stroke="#b955f2" stroke-width="1.4" stroke-linecap="butt"/>
<line x1="1664.22" y1="1208.76" x2="1664.22" y2="1251.7" stroke="#b955f2" stroke-width="1.4" stroke-linecap="butt"/>
<line x1="1658.72" y1="1208.76" x2="1669.72" y2="1208.76" stroke="#b955f2" stroke-width="1.4" stroke-linecap="butt"/>
<line x1="1658.72" y1="1251.7" x2="1669.72" y2="1251.7" stroke="#b955f2" stroke-width="1.4" stroke-linecap="butt"/>
<line x1="1683.86" y1="1185.56" x2="1683.86" y2="1249.88" stroke="#b955f2" stroke-width="1.4" stroke-linecap="butt"/>
<line x1="1678.36" y1="1185.56" x2="1689.36" y2="1185.56" stroke="#b955f2" stroke-width="1.4" stroke-linecap="butt"/>
<line x1="1678.36" y1="1249.88" x2="1689.36" y2="1249.88" stroke="#b955f2" stroke-width="1.4" stroke-linecap="butt"/>
<line x1="1703.5" y1="1174.96" x2="1703.5" y2="1237.09" stroke="#b955f2" stroke-width="1.4" stroke-linecap="butt"/>
<line x1="1698" y1="1174.96" x2="1709" y2="1174.96" stroke="#b955f2" stroke-width="1.4" stroke-linecap="butt"/>
<line x1="1698" y1="1237.09" x2="1709" y2="1237.09" stroke="#b955f2" stroke-width="1.4" stroke-linecap="butt"/>
<line x1="1723.14" y1="1153.04" x2="1723.14" y2="1226.67" stroke="#b955f2" stroke-width="1.4" stroke-linecap="butt"/>
<line x1="1717.64" y1="1153.04" x2="1728.64" y2="1153.04" stroke="#b955f2" stroke-width="1.4" stroke-linecap="butt"/>
<line x1="1717.64" y1="1226.67" x2="1728.64" y2="1226.67" stroke="#b955f2" stroke-width="1.4" stroke-linecap="butt"/>
<line x1="1742.78" y1="1141.71" x2="1742.78" y2="1216.07" stroke="#b955f2" stroke-width="1.4" stroke-linecap="butt"/>
<line x1="1737.28" y1="1141.71" x2="1748.28" y2="1141.71" stroke="#b955f2" stroke-width="1.4" stroke-linecap="butt"/>
<line x1="1737.28" y1="1216.07" x2="1748.28" y2="1216.07" stroke="#b955f2" stroke-width="1.4" stroke-linecap="butt"/>
<line x1="1762.42" y1="1137.87" x2="1762.42" y2="1212.6" stroke="#b955f2" stroke-width="1.4" stroke-linecap="butt"/>
<line x1="1756.92" y1="1137.87" x2="1767.92" y2="1137.87" stroke="#b955f2" stroke-width="1.4" stroke-linecap="butt"/>
<line x1="1756.92" y1="1212.6" x2="1767.92" y2="1212.6" stroke="#b955f2" stroke-width="1.4" stroke-linecap="butt"/>
<line x1="1782.06" y1="1132.94" x2="1782.06" y2="1209.68" stroke="#b955f2" stroke-width="1.4" stroke-linecap="butt"/>
<line x1="1776.56" y1="1132.94" x2="1787.56" y2="1132.94" stroke="#b955f2" stroke-width="1.4" stroke-linecap="butt"/>
<line x1="1776.56" y1="1209.68" x2="1787.56" y2="1209.68" stroke="#b955f2" stroke-width="1.4" stroke-linecap="butt"/>
<line x1="1801.7" y1="1128.92" x2="1801.7" y2="1206.94" stroke="#b955f2" stroke-width="1.4" stroke-linecap="butt"/>
<line x1="1796.2" y1="1128.92" x2="1807.2" y2="1128.92" stroke="#b955f2" stroke-width="1.4" stroke-linecap="butt"/>
<line x1="1796.2" y1="1206.94" x2="1807.2" y2="1206.94" stroke="#b955f2" stroke-width="1.4" stroke-linecap="butt"/>
<line x1="1821.34" y1="1128" x2="1821.34" y2="1205.11" stroke="#b955f2" stroke-width="1.4" stroke-linecap="butt"/>
<line x1="1815.84" y1="1128" x2="1826.84" y2="1128" stroke="#b955f2" stroke-width="1.4" stroke-linecap="butt"/>
<line x1="1815.84" y1="1205.11" x2="1826.84" y2="1205.11" stroke="#b955f2" stroke-width="1.4" stroke-linecap="butt"/>
<line x1="1840.98" y1="1128" x2="1840.98" y2="1205.11" stroke="#b955f2" stroke-width="1.4" stroke-linecap="butt"/>
<line x1="1835.48" y1="1128" x2="1846.48" y2="1128" stroke="#b955f2" stroke-width="1.4" stroke-linecap="butt"/>
<line x1="1835.48" y1="1205.11" x2="1846.48" y2="1205.11" stroke="#b955f2" stroke-width="1.4" stroke-linecap="butt"/>
<line x1="1860.62" y1="1126.54" x2="1860.62" y2="1201.46" stroke="#b955f2" stroke-width="1.4" stroke-linecap="butt"/>
<line x1="1855.12" y1="1126.54" x2="1866.12" y2="1126.54" stroke="#b955f2" stroke-width="1.4" stroke-linecap="butt"/>
<line x1="1855.12" y1="1201.46" x2="1866.12" y2="1201.46" stroke="#b955f2" stroke-width="1.4" stroke-linecap="butt"/>
<line x1="1880.26" y1="1126.54" x2="1880.26" y2="1201.09" stroke="#b955f2" stroke-width="1.4" stroke-linecap="butt"/>
<line x1="1874.76" y1="1126.54" x2="1885.76" y2="1126.54" stroke="#b955f2" stroke-width="1.4" stroke-linecap="butt"/>
<line x1="1874.76" y1="1201.09" x2="1885.76" y2="1201.09" stroke="#b955f2" stroke-width="1.4" stroke-linecap="butt"/>
<line x1="1899.9" y1="1120.15" x2="1899.9" y2="1199.08" stroke="#b955f2" stroke-width="1.4" stroke-linecap="butt"/>
<line x1="1894.4" y1="1120.15" x2="1905.4" y2="1120.15" stroke="#b955f2" stroke-width="1.4" stroke-linecap="butt"/>
<line x1="1894.4" y1="1199.08" x2="1905.4" y2="1199.08" stroke="#b955f2" stroke-width="1.4" stroke-linecap="butt"/>
<line x1="1919.54" y1="1120.15" x2="1919.54" y2="1198.72" stroke="#b955f2" stroke-width="1.4" stroke-linecap="butt"/>
<line x1="1914.04" y1="1120.15" x2="1925.04" y2="1120.15" stroke="#b955f2" stroke-width="1.4" stroke-linecap="butt"/>
<line x1="1914.04" y1="1198.72" x2="1925.04" y2="1198.72" stroke="#b955f2" stroke-width="1.4" stroke-linecap="butt"/>
<line x1="1939.18" y1="1114.67" x2="1939.18" y2="1194.15" stroke="#b955f2" stroke-width="1.4" stroke-linecap="butt"/>
<line x1="1933.68" y1="1114.67" x2="1944.68" y2="1114.67" stroke="#b955f2" stroke-width="1.4" stroke-linecap="butt"/>
<line x1="1933.68" y1="1194.15" x2="1944.68" y2="1194.15" stroke="#b955f2" stroke-width="1.4" stroke-linecap="butt"/>
<line x1="1958.82" y1="1113.75" x2="1958.82" y2="1193.23" stroke="#b955f2" stroke-width="1.4" stroke-linecap="butt"/>
<line x1="1953.32" y1="1113.75" x2="1964.32" y2="1113.75" stroke="#b955f2" stroke-width="1.4" stroke-linecap="butt"/>
<line x1="1953.32" y1="1193.23" x2="1964.32" y2="1193.23" stroke="#b955f2" stroke-width="1.4" stroke-linecap="butt"/>
<line x1="1978.46" y1="1112.47" x2="1978.46" y2="1190.13" stroke="#b955f2" stroke-width="1.4" stroke-linecap="butt"/>
<line x1="1972.96" y1="1112.47" x2="1983.96" y2="1112.47" stroke="#b955f2" stroke-width="1.4" stroke-linecap="butt"/>
<line x1="1972.96" y1="1190.13" x2="1983.96" y2="1190.13" stroke="#b955f2" stroke-width="1.4" stroke-linecap="butt"/>
<path d="M1526.74 1322.05 L1546.38 1298.3 L1566.02 1292.45 L1585.66 1280.02 L1605.3 1260.84 L1624.94 1254.99 L1644.58 1248.05 L1664.22 1229.78 L1683.86 1217.9 L1703.5 1206.02 L1723.14 1190.13 L1742.78 1179.16 L1762.42 1175.15 L1782.06 1171.13 L1801.7 1168.93 L1821.34 1167.65 L1840.98 1166.74 L1860.62 1164.55 L1880.26 1164 L1899.9 1160.35 L1919.54 1160.35 L1939.18 1155.78 L1958.82 1153.04 L1978.46 1151.21" stroke="#b955f2" stroke-width="1.5" fill="none" stroke-linejoin="miter"/>
<rect x="1520.34" y="1315.65" width="12.8" height="12.8" fill="#b955f2"/>
<rect x="1539.98" y="1291.9" width="12.8" height="12.8" fill="#b955f2"/>
<rect x="1559.62" y="1286.05" width="12.8" height="12.8" fill="#b955f2"/>
<rect x="1579.26" y="1273.62" width="12.8" height="12.8" fill="#b955f2"/>
<rect x="1598.9" y="1254.44" width="12.8" height="12.8" fill="#b955f2"/>
<rect x="1618.54" y="1248.59" width="12.8" height="12.8" fill="#b955f2"/>
<rect x="1638.18" y="1241.65" width="12.8" height="12.8" fill="#b955f2"/>
<rect x="1657.82" y="1223.38" width="12.8" height="12.8" fill="#b955f2"/>
<rect x="1677.46" y="1211.5" width="12.8" height="12.8" fill="#b955f2"/>
<rect x="1697.1" y="1199.62" width="12.8" height="12.8" fill="#b955f2"/>
<rect x="1716.74" y="1183.73" width="12.8" height="12.8" fill="#b955f2"/>
<rect x="1736.38" y="1172.76" width="12.8" height="12.8" fill="#b955f2"/>
<rect x="1756.02" y="1168.75" width="12.8" height="12.8" fill="#b955f2"/>
<rect x="1775.66" y="1164.73" width="12.8" height="12.8" fill="#b955f2"/>
<rect x="1795.3" y="1162.53" width="12.8" height="12.8" fill="#b955f2"/>
<rect x="1814.94" y="1161.25" width="12.8" height="12.8" fill="#b955f2"/>
<rect x="1834.58" y="1160.34" width="12.8" height="12.8" fill="#b955f2"/>
<rect x="1854.22" y="1158.15" width="12.8" height="12.8" fill="#b955f2"/>
<rect x="1873.86" y="1157.6" width="12.8" height="12.8" fill="#b955f2"/>
<rect x="1893.5" y="1153.95" width="12.8" height="12.8" fill="#b955f2"/>
<rect x="1913.14" y="1153.95" width="12.8" height="12.8" fill="#b955f2"/>
<rect x="1932.78" y="1149.38" width="12.8" height="12.8" fill="#b955f2"/>
<rect x="1952.42" y="1146.64" width="12.8" height="12.8" fill="#b955f2"/>
<rect x="1972.06" y="1144.81" width="12.8" height="12.8" fill="#b955f2"/>
<line x1="1546.38" y1="1306.52" x2="1546.38" y2="1333.01" stroke="#000000" stroke-width="1.5" stroke-linecap="butt"/>
<line x1="1540.88" y1="1306.52" x2="1551.88" y2="1306.52" stroke="#000000" stroke-width="1.5" stroke-linecap="butt"/>
<line x1="1540.88" y1="1333.01" x2="1551.88" y2="1333.01" stroke="#000000" stroke-width="1.5" stroke-linecap="butt"/>
<line x1="1566.02" y1="1293.73" x2="1566.02" y2="1313.28" stroke="#000000" stroke-width="1.5" stroke-linecap="butt"/>
<line x1="1560.52" y1="1293.73" x2="1571.52" y2="1293.73" stroke="#000000" stroke-width="1.5" stroke-linecap="butt"/>
<line x1="1560.52" y1="1313.28" x2="1571.52" y2="1313.28" stroke="#000000" stroke-width="1.5" stroke-linecap="butt"/>
<line x1="1585.66" y1="1237.09" x2="1585.66" y2="1279.48" stroke="#000000" stroke-width="1.5" stroke-linecap="butt"/>
<line x1="1580.16" y1="1237.09" x2="1591.16" y2="1237.09" stroke="#000000" stroke-width="1.5" stroke-linecap="butt"/>
<line x1="1580.16" y1="1279.48" x2="1591.16" y2="1279.48" stroke="#000000" stroke-width="1.5" stroke-linecap="butt"/>
<line x1="1605.3" y1="1206.57" x2="1605.3" y2="1256.64" stroke="#000000" stroke-width="1.5" stroke-linecap="butt"/>
<line x1="1599.8" y1="1206.57" x2="1610.8" y2="1206.57" stroke="#000000" stroke-width="1.5" stroke-linecap="butt"/>
<line x1="1599.8" y1="1256.64" x2="1610.8" y2="1256.64" stroke="#000000" stroke-width="1.5" stroke-linecap="butt"/>
<line x1="1624.94" y1="1202" x2="1624.94" y2="1247.68" stroke="#000000" stroke-width="1.5" stroke-linecap="butt"/>
<line x1="1619.44" y1="1202" x2="1630.44" y2="1202" stroke="#000000" stroke-width="1.5" stroke-linecap="butt"/>
<line x1="1619.44" y1="1247.68" x2="1630.44" y2="1247.68" stroke="#000000" stroke-width="1.5" stroke-linecap="butt"/>
<line x1="1644.58" y1="1184.65" x2="1644.58" y2="1221.92" stroke="#000000" stroke-width="1.5" stroke-linecap="butt"/>
<line x1="1639.08" y1="1184.65" x2="1650.08" y2="1184.65" stroke="#000000" stroke-width="1.5" stroke-linecap="butt"/>
<line x1="1639.08" y1="1221.92" x2="1650.08" y2="1221.92" stroke="#000000" stroke-width="1.5" stroke-linecap="butt"/>
<line x1="1664.22" y1="1184.65" x2="1664.22" y2="1221.92" stroke="#000000" stroke-width="1.5" stroke-linecap="butt"/>
<line x1="1658.72" y1="1184.65" x2="1669.72" y2="1184.65" stroke="#000000" stroke-width="1.5" stroke-linecap="butt"/>
<line x1="1658.72" y1="1221.92" x2="1669.72" y2="1221.92" stroke="#000000" stroke-width="1.5" stroke-linecap="butt"/>
<line x1="1683.86" y1="1171.86" x2="1683.86" y2="1216.44" stroke="#000000" stroke-width="1.5" stroke-linecap="butt"/>
<line x1="1678.36" y1="1171.86" x2="1689.36" y2="1171.86" stroke="#000000" stroke-width="1.5" stroke-linecap="butt"/>
<line x1="1678.36" y1="1216.44" x2="1689.36" y2="1216.44" stroke="#000000" stroke-width="1.5" stroke-linecap="butt"/>
<line x1="1703.5" y1="1168.2" x2="1703.5" y2="1208.4" stroke="#000000" stroke-width="1.5" stroke-linecap="butt"/>
<line x1="1698" y1="1168.2" x2="1709" y2="1168.2" stroke="#000000" stroke-width="1.5" stroke-linecap="butt"/>
<line x1="1698" y1="1208.4" x2="1709" y2="1208.4" stroke="#000000" stroke-width="1.5" stroke-linecap="butt"/>
<line x1="1723.14" y1="1155.59" x2="1723.14" y2="1191.04" stroke="#000000" stroke-width="1.5" stroke-linecap="butt"/>
<line x1="1717.64" y1="1155.59" x2="1728.64" y2="1155.59" stroke="#000000" stroke-width="1.5" stroke-linecap="butt"/>
<line x1="1717.64" y1="1191.04" x2="1728.64" y2="1191.04" stroke="#000000" stroke-width="1.5" stroke-linecap="butt"/>
<line x1="1742.78" y1="1151.76" x2="1742.78" y2="1185.01" stroke="#000000" stroke-width="1.5" stroke-linecap="butt"/>
<line x1="1737.28" y1="1151.76" x2="1748.28" y2="1151.76" stroke="#000000" stroke-width="1.5" stroke-linecap="butt"/>
<line x1="1737.28" y1="1185.01" x2="1748.28" y2="1185.01" stroke="#000000" stroke-width="1.5" stroke-linecap="butt"/>
<line x1="1762.42" y1="1150.11" x2="1762.42" y2="1181.36" stroke="#000000" stroke-width="1.5" stroke-linecap="butt"/>
<line x1="1756.92" y1="1150.11" x2="1767.92" y2="1150.11" stroke="#000000" stroke-width="1.5" stroke-linecap="butt"/>
<line x1="1756.92" y1="1181.36" x2="1767.92" y2="1181.36" stroke="#000000" stroke-width="1.5" stroke-linecap="butt"/>
<line x1="1782.06" y1="1146.64" x2="1782.06" y2="1174.41" stroke="#000000" stroke-width="1.5" stroke-linecap="butt"/>
<line x1="1776.56" y1="1146.64" x2="1787.56" y2="1146.64" stroke="#000000" stroke-width="1.5" stroke-linecap="butt"/>
<line x1="1776.56" y1="1174.41" x2="1787.56" y2="1174.41" stroke="#000000" stroke-width="1.5" stroke-linecap="butt"/>
<line x1="1801.7" y1="1146.09" x2="1801.7" y2="1173.5" stroke="#000000" stroke-width="1.5" stroke-linecap="butt"/>
<line x1="1796.2" y1="1146.09" x2="1807.2" y2="1146.09" stroke="#000000" stroke-width="1.5" stroke-linecap="butt"/>
<line x1="1796.2" y1="1173.5" x2="1807.2" y2="1173.5" stroke="#000000" stroke-width="1.5" stroke-linecap="butt"/>
<line x1="1821.34" y1="1145.18" x2="1821.34" y2="1173.14" stroke="#000000" stroke-width="1.5" stroke-linecap="butt"/>
<line x1="1815.84" y1="1145.18" x2="1826.84" y2="1145.18" stroke="#000000" stroke-width="1.5" stroke-linecap="butt"/>
<line x1="1815.84" y1="1173.14" x2="1826.84" y2="1173.14" stroke="#000000" stroke-width="1.5" stroke-linecap="butt"/>
<line x1="1840.98" y1="1140.79" x2="1840.98" y2="1166.37" stroke="#000000" stroke-width="1.5" stroke-linecap="butt"/>
<line x1="1835.48" y1="1140.79" x2="1846.48" y2="1140.79" stroke="#000000" stroke-width="1.5" stroke-linecap="butt"/>
<line x1="1835.48" y1="1166.37" x2="1846.48" y2="1166.37" stroke="#000000" stroke-width="1.5" stroke-linecap="butt"/>
<line x1="1860.62" y1="1140.79" x2="1860.62" y2="1166.37" stroke="#000000" stroke-width="1.5" stroke-linecap="butt"/>
<line x1="1855.12" y1="1140.79" x2="1866.12" y2="1140.79" stroke="#000000" stroke-width="1.5" stroke-linecap="butt"/>
<line x1="1855.12" y1="1166.37" x2="1866.12" y2="1166.37" stroke="#000000" stroke-width="1.5" stroke-linecap="butt"/>
<line x1="1880.26" y1="1138.97" x2="1880.26" y2="1164.91" stroke="#000000" stroke-width="1.5" stroke-linecap="butt"/>
<line x1="1874.76" y1="1138.97" x2="1885.76" y2="1138.97" stroke="#000000" stroke-width="1.5" stroke-linecap="butt"/>
<line x1="1874.76" y1="1164.91" x2="1885.76" y2="1164.91" stroke="#000000" stroke-width="1.5" stroke-linecap="butt"/>
<line x1="1899.9" y1="1137.87" x2="1899.9" y2="1163.45" stroke="#000000" stroke-width="1.5" stroke-linecap="butt"/>
<line x1="1894.4" y1="1137.87" x2="1905.4" y2="1137.87" stroke="#000000" stroke-width="1.5" stroke-linecap="butt"/>
<line x1="1894.4" y1="1163.45" x2="1905.4" y2="1163.45" stroke="#000000" stroke-width="1.5" stroke-linecap="butt"/>
<line x1="1919.54" y1="1137.87" x2="1919.54" y2="1163.45" stroke="#000000" stroke-width="1.5" stroke-linecap="butt"/>
<line x1="1914.04" y1="1137.87" x2="1925.04" y2="1137.87" stroke="#000000" stroke-width="1.5" stroke-linecap="butt"/>
<line x1="1914.04" y1="1163.45" x2="1925.04" y2="1163.45" stroke="#000000" stroke-width="1.5" stroke-linecap="butt"/>
<line x1="1939.18" y1="1134.4" x2="1939.18" y2="1159.8" stroke="#000000" stroke-width="1.5" stroke-linecap="butt"/>
<line x1="1933.68" y1="1134.4" x2="1944.68" y2="1134.4" stroke="#000000" stroke-width="1.5" stroke-linecap="butt"/>
<line x1="1933.68" y1="1159.8" x2="1944.68" y2="1159.8" stroke="#000000" stroke-width="1.5" stroke-linecap="butt"/>
<line x1="1958.82" y1="1128.92" x2="1958.82" y2="1154.32" stroke="#000000" stroke-width="1.5" stroke-linecap="butt"/>
<line x1="1953.32" y1="1128.92" x2="1964.32" y2="1128.92" stroke="#000000" stroke-width="1.5" stroke-linecap="butt"/>
<line x1="1953.32" y1="1154.32" x2="1964.32" y2="1154.32" stroke="#000000" stroke-width="1.5" stroke-linecap="butt"/>
<line x1="1978.46" y1="1125.99" x2="1978.46" y2="1153.4" stroke="#000000" stroke-width="1.5" stroke-linecap="butt"/>
<line x1="1972.96" y1="1125.99" x2="1983.96" y2="1125.99" stroke="#000000" stroke-width="1.5" stroke-linecap="butt"/>
<line x1="1972.96" y1="1153.4" x2="1983.96" y2="1153.4" stroke="#000000" stroke-width="1.5" stroke-linecap="butt"/>
<path d="M1526.74 1334.29 L1546.38 1319.67 L1566.02 1303.78 L1585.66 1258.46 L1605.3 1231.6 L1624.94 1225.21 L1644.58 1203.65 L1664.22 1203.65 L1683.86 1194.51 L1703.5 1188.3 L1723.14 1173.32 L1742.78 1168.57 L1762.42 1166.01 L1782.06 1160.53 L1801.7 1159.43 L1821.34 1159.07 L1840.98 1153.4 L1860.62 1153.4 L1880.26 1152.12 L1899.9 1150.3 L1919.54 1149.93 L1939.18 1147.19 L1958.82 1141.71 L1978.46 1139.33" stroke="#000000" stroke-width="1.6" fill="none" stroke-linejoin="miter"/>
<circle cx="1526.74" cy="1334.29" r="6.5" fill="#000000"/>
<circle cx="1546.38" cy="1319.67" r="6.5" fill="#000000"/>
<circle cx="1566.02" cy="1303.78" r="6.5" fill="#000000"/>
<circle cx="1585.66" cy="1258.46" r="6.5" fill="#000000"/>
<circle cx="1605.3" cy="1231.6" r="6.5" fill="#000000"/>
<circle cx="1624.94" cy="1225.21" r="6.5" fill="#000000"/>
<circle cx="1644.58" cy="1203.65" r="6.5" fill="#000000"/>
<circle cx="1664.22" cy="1203.65" r="6.5" fill="#000000"/>
<circle cx="1683.86" cy="1194.51" r="6.5" fill="#000000"/>
<circle cx="1703.5" cy="1188.3" r="6.5" fill="#000000"/>
<circle cx="1723.14" cy="1173.32" r="6.5" fill="#000000"/>
<circle cx="1742.78" cy="1168.57" r="6.5" fill="#000000"/>
<circle cx="1762.42" cy="1166.01" r="6.5" fill="#000000"/>
<circle cx="1782.06" cy="1160.53" r="6.5" fill="#000000"/>
<circle cx="1801.7" cy="1159.43" r="6.5" fill="#000000"/>
<circle cx="1821.34" cy="1159.07" r="6.5" fill="#000000"/>
<circle cx="1840.98" cy="1153.4" r="6.5" fill="#000000"/>
<circle cx="1860.62" cy="1153.4" r="6.5" fill="#000000"/>
<circle cx="1880.26" cy="1152.12" r="6.5" fill="#000000"/>
<circle cx="1899.9" cy="1150.3" r="6.5" fill="#000000"/>
<circle cx="1919.54" cy="1149.93" r="6.5" fill="#000000"/>
<circle cx="1939.18" cy="1147.19" r="6.5" fill="#000000"/>
<circle cx="1958.82" cy="1141.71" r="6.5" fill="#000000"/>
<circle cx="1978.46" cy="1139.33" r="6.5" fill="#000000"/>
<line x1="1506.6" y1="1018.95" x2="1506.6" y2="1347.5" stroke="#000000" stroke-width="2.7" stroke-linecap="butt"/>
<line x1="1493.2" y1="1334.3" x2="1980.35" y2="1334.3" stroke="#000000" stroke-width="2.7" stroke-linecap="butt"/>
<line x1="1493.2" y1="1020.3" x2="1506.6" y2="1020.3" stroke="#000000" stroke-width="2.7" stroke-linecap="butt"/>
<text x="1489.6" y="1029.45" text-anchor="end" font-size="26" font-weight="bold" fill="#000000">3</text>
<line x1="1493.2" y1="1125" x2="1506.6" y2="1125" stroke="#000000" stroke-width="2.7" stroke-linecap="butt"/>
<text x="1489.6" y="1134.15" text-anchor="end" font-size="26" font-weight="bold" fill="#000000">2</text>
<line x1="1493.2" y1="1229.6" x2="1506.6" y2="1229.6" stroke="#000000" stroke-width="2.7" stroke-linecap="butt"/>
<text x="1489.6" y="1238.75" text-anchor="end" font-size="26" font-weight="bold" fill="#000000">1</text>
<line x1="1493.2" y1="1334.3" x2="1506.6" y2="1334.3" stroke="#000000" stroke-width="2.7" stroke-linecap="butt"/>
<text x="1489.6" y="1343.45" text-anchor="end" font-size="26" font-weight="bold" fill="#000000">0</text>
<line x1="1507.1" y1="1334.3" x2="1507.1" y2="1347.5" stroke="#000000" stroke-width="2.7" stroke-linecap="butt"/>
<text x="1506.3" y="1375.6" text-anchor="middle" font-size="26" font-weight="bold" fill="#000000">0</text>
<line x1="1566.02" y1="1334.3" x2="1566.02" y2="1347.5" stroke="#000000" stroke-width="2.7" stroke-linecap="butt"/>
<text x="1565.22" y="1375.6" text-anchor="middle" font-size="26" font-weight="bold" fill="#000000">3</text>
<line x1="1624.94" y1="1334.3" x2="1624.94" y2="1347.5" stroke="#000000" stroke-width="2.7" stroke-linecap="butt"/>
<text x="1624.14" y="1375.6" text-anchor="middle" font-size="26" font-weight="bold" fill="#000000">6</text>
<line x1="1683.86" y1="1334.3" x2="1683.86" y2="1347.5" stroke="#000000" stroke-width="2.7" stroke-linecap="butt"/>
<text x="1683.06" y="1375.6" text-anchor="middle" font-size="26" font-weight="bold" fill="#000000">9</text>
<line x1="1742.78" y1="1334.3" x2="1742.78" y2="1347.5" stroke="#000000" stroke-width="2.7" stroke-linecap="butt"/>
<text x="1741.98" y="1375.6" text-anchor="middle" font-size="26" font-weight="bold" fill="#000000">12</text>
<line x1="1801.7" y1="1334.3" x2="1801.7" y2="1347.5" stroke="#000000" stroke-width="2.7" stroke-linecap="butt"/>
<text x="1800.9" y="1375.6" text-anchor="middle" font-size="26" font-weight="bold" fill="#000000">15</text>
<line x1="1860.62" y1="1334.3" x2="1860.62" y2="1347.5" stroke="#000000" stroke-width="2.7" stroke-linecap="butt"/>
<text x="1859.82" y="1375.6" text-anchor="middle" font-size="26" font-weight="bold" fill="#000000">18</text>
<line x1="1919.54" y1="1334.3" x2="1919.54" y2="1347.5" stroke="#000000" stroke-width="2.7" stroke-linecap="butt"/>
<text x="1918.74" y="1375.6" text-anchor="middle" font-size="26" font-weight="bold" fill="#000000">21</text>
<line x1="1978.46" y1="1334.3" x2="1978.46" y2="1347.5" stroke="#000000" stroke-width="2.7" stroke-linecap="butt"/>
<text x="1977.66" y="1375.6" text-anchor="middle" font-size="26" font-weight="bold" fill="#000000">24</text>
<text x="1742.5" y="1413.4" text-anchor="middle" font-size="25.5" font-weight="bold" fill="#000000">Time (h)</text>
<text transform="translate(1460,1177) rotate(-90)" text-anchor="middle" font-size="26.25" font-weight="bold" fill="#000000">Cumulative 45% HFHSD intake (g)</text>
<text x="1765.5" y="933.4" text-anchor="middle" font-size="44.5" font-weight="bold" fill="#000000">Control</text>
<line x1="1533.4" y1="1030.3" x2="1566.4" y2="1030.3" stroke="#000000" stroke-width="1.5" stroke-linecap="butt"/>
<circle cx="1549.9" cy="1030.3" r="7.2" fill="#000000"/>
<text x="1585" y="1040.2" text-anchor="start" font-size="29" fill="#000000">Saline</text>
<line x1="1533.4" y1="1064.9" x2="1566.4" y2="1064.9" stroke="#b955f2" stroke-width="1.5" stroke-linecap="butt"/>
<rect x="1543.15" y="1058.15" width="13.5" height="13.5" fill="#b955f2"/>
<text x="1585" y="1074.3" text-anchor="start" font-size="29" fill="#000000">CNO</text>
<text x="1712.5" y="1313.8" font-size="25.7">Time x Drug: <tspan font-style="italic">p</tspan>=0.6206</text>
</svg>
</body></html>
